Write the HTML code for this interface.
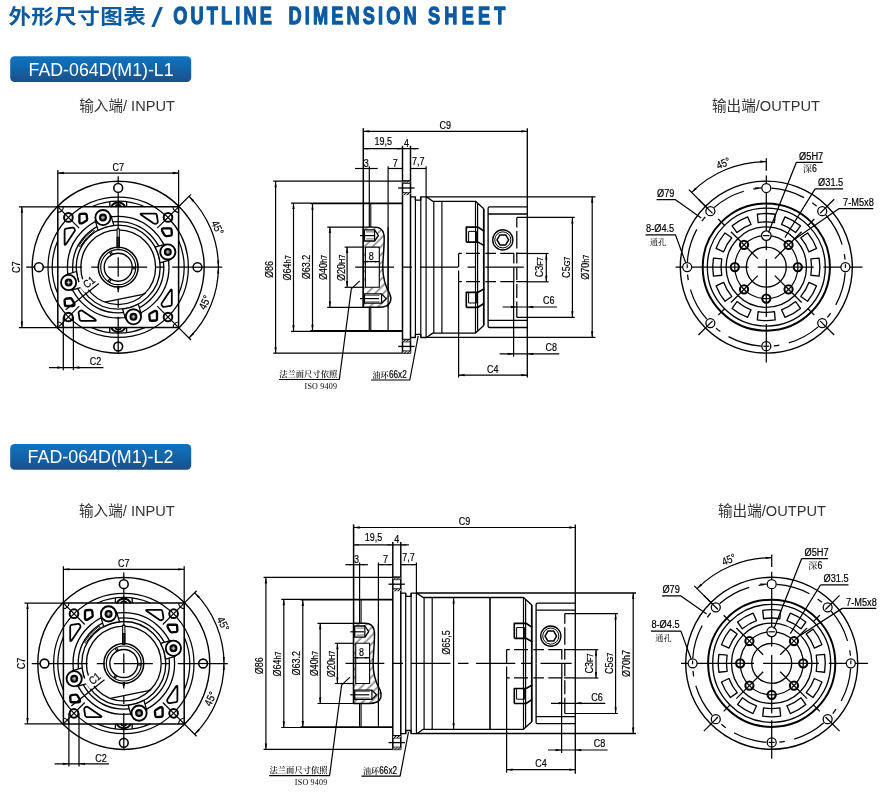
<!DOCTYPE html>
<html lang="zh"><head><meta charset="utf-8"><title>外形尺寸图表 / OUTLINE DIMENSION SHEET</title>
<style>
html,body{margin:0;padding:0;background:#fff;}
body{width:889px;height:795px;overflow:hidden;position:relative;}
svg{position:absolute;left:0;top:0;display:block;will-change:transform;}
.d{fill:none;stroke:#000;stroke-linecap:butt;stroke-linejoin:round;}
.t{font-family:"Liberation Sans","Noto Sans CJK SC",sans-serif;fill:#000;stroke:#000;stroke-width:0.2px;}
.s{font-family:"Liberation Serif","Noto Serif CJK SC",serif;fill:#111;stroke:none;font-weight:600;}
.s2{font-family:"Liberation Serif","Noto Serif CJK SC",serif;fill:#2a2a2a;stroke:none;font-weight:500;}
.m{font-family:"Liberation Serif","Noto Serif CJK SC",serif;fill:#000;stroke:none;}
.halo{font-family:"Liberation Sans","Noto Sans CJK SC",sans-serif;fill:#fff;stroke:#fff;stroke-width:3.4px;stroke-linejoin:round;}
.h1{font-family:"Liberation Sans","Noto Sans CJK SC",sans-serif;font-weight:bold;fill:#0d5a9e;}
.h1l{stroke:#0d5a9e;stroke-width:1.3px;stroke-linejoin:round;}
.lab{font-family:"Liberation Sans","Noto Sans CJK SC",sans-serif;fill:#333;}
.bt{font-family:"Liberation Sans","Noto Sans CJK SC",sans-serif;fill:#fff;}
</style></head><body>
<svg width="889" height="795" viewBox="0 0 889 795">
<defs>
<linearGradient id="bg" x1="0" y1="0" x2="0" y2="1"><stop offset="0" stop-color="#0d74c2"/><stop offset="0.5" stop-color="#1463a6"/><stop offset="1" stop-color="#1b5089"/></linearGradient>
<pattern id="hat" width="2.2" height="2.2" patternUnits="userSpaceOnUse" patternTransform="rotate(-45)"><rect width="2.2" height="2.2" fill="#fff"/><line x1="0" y1="1.1" x2="2.2" y2="1.1" stroke="#000" stroke-width="1.15"/></pattern>
<pattern id="hat2" width="5.8" height="5.8" patternUnits="userSpaceOnUse" patternTransform="rotate(-45)"><line x1="0" y1="2.9" x2="5.8" y2="2.9" stroke="#000" stroke-width="0.75"/></pattern>
<clipPath id="clip1"><rect x="0" y="0" width="889" height="795"/></clipPath>
<clipPath id="clip2"><rect x="0" y="0" width="889" height="795"/></clipPath>
</defs>
<rect width="889" height="795" fill="#fff"/>
<text class="h1" transform="translate(8.4 23.9) scale(1 0.92)" font-size="22.6" textLength="137.4" lengthAdjust="spacing">外形尺寸图表</text>
<text class="h1" style="font-weight:normal" transform="translate(151.3 26.6) scale(1.72 1.12)" font-size="24.5">/</text>
<text class="h1 h1l" transform="translate(173.20000000000002 24.1) scale(0.74 1.0)" font-size="24.6" textLength="133.5" lengthAdjust="spacing">OUTLINE</text>
<text class="h1 h1l" transform="translate(288.59999999999997 24.1) scale(0.74 1.0)" font-size="24.6" textLength="173.0" lengthAdjust="spacing">DIMENSION</text>
<text class="h1 h1l" transform="translate(428.0 24.1) scale(0.74 1.0)" font-size="24.6" textLength="104.6" lengthAdjust="spacing">SHEET</text>
<rect x="10.2" y="56.2" width="181" height="25.8" rx="4.5" fill="url(#bg)"/>
<text class="bt" x="28.6" y="75.7" font-size="18.2" textLength="145" lengthAdjust="spacingAndGlyphs">FAD-064D(M1)-L1</text>
<rect x="10.2" y="443.9" width="181" height="25.9" rx="4.5" fill="url(#bg)"/>
<text class="bt" x="27.6" y="463.3" font-size="18.2" textLength="145.8" lengthAdjust="spacingAndGlyphs">FAD-064D(M1)-L2</text>
<text class="lab" x="79.2" y="110.9" font-size="14.6">输入端/ INPUT</text>
<text class="lab" x="712" y="110.8" font-size="14.6">输出端/OUTPUT</text>
<text class="lab" x="79" y="516" font-size="14.6">输入端/ INPUT</text>
<text class="lab" x="718" y="516" font-size="14.6">输出端/OUTPUT</text>
<g class="d">
<g transform="translate(118.2 267.2)">
<circle cx="0" cy="0" r="86" stroke-width="1.39" />
<circle cx="0" cy="0" r="70.2" stroke-width="1.25" />
<path d="M-26.61 -60.4A66 66 0 0 1 26.61 -60.4" stroke-width="1.25" />
<path d="M60.4 -26.61A66 66 0 0 1 60.4 26.61" stroke-width="1.25" />
<path d="M26.61 60.4A66 66 0 0 1 -26.61 60.4" stroke-width="1.25" />
<path d="M-60.4 26.61A66 66 0 0 1 -60.4 -26.61" stroke-width="1.25" />
<rect x="-60.4" y="-60.4" width="120.8" height="120.8" stroke-width="1.52"/>
<path d="M60.4 54.8A5.6 5.6 0 0 0 54.8 60.4" stroke-width="1.12" />
<path d="M60.4 -54.8A5.6 5.6 0 0 1 54.8 -60.4" stroke-width="1.12" />
<path d="M-60.4 54.8A5.6 5.6 0 0 1 -54.8 60.4" stroke-width="1.12" />
<path d="M-60.4 -54.8A5.6 5.6 0 0 0 -54.8 -60.4" stroke-width="1.12" />
<circle cx="0" cy="0" r="50.8" stroke-width="1.32" />
<circle cx="0" cy="0" r="45.6" stroke-width="1.32" />
<circle cx="0" cy="0" r="42" stroke-width="1.32" />
<circle cx="0" cy="0" r="37.4" stroke-width="1.32" />
<path d="M-37.7 -20.9A43.1 43.1 0 0 1 -24.1 -35.73A0.8 0.8 0 0 0 -25 -37.06A44.7 44.7 0 0 0 -39.1 -21.67A0.8 0.8 0 0 0 -37.7 -20.9Z" stroke-width="1.0" stroke="#000"/>
<path d="M-13.4 34.92L23.55 27.41Q26.15 26.81 27.35 25.51" stroke-width="1.32" />
<path d="M-8.4 -60.4V-65.4M8.4 -60.4V-65.4" stroke-width="1.32" />
<path d="M-7.1 -60.1A7.8 7.8 0 0 1 7.1 -60.1" stroke-width="1.98" />
<path d="M-3.1 -60.3A3.3 3.3 0 0 1 3.1 -60.3" stroke-width="1.72" />
<path d="M-8.4 60.4V65.4M8.4 60.4V65.4" stroke-width="1.32" />
<path d="M-7.1 60.1A7.8 7.8 0 0 0 7.1 60.1" stroke-width="1.98" />
<path d="M-3.1 60.3A3.3 3.3 0 0 0 3.1 60.3" stroke-width="1.72" />
<g transform="rotate(0)">
<path d="M23.2 -53.6H37Q38.4 -53.6 38.6 -52.2L39.6 -46Q39.8 -44.6 38.8 -44L37.6 -43.4Q36.6 -43 35.6 -43.8L22.8 -52.4Q21.6 -53.6 23.2 -53.6Z" stroke-width="1.78" />
<path d="M45.2 -38.8H52Q53.2 -38.8 53.3 -37.6L53.6 -33.2Q53.6 -31.8 52.4 -31.6L48.2 -31.1Q47 -31 46.4 -32L44 -36Q43.2 -38.8 45.2 -38.8Z" stroke-width="2.38" />
<line x1="39" y1="-39" x2="60.4" y2="-60.4" stroke-width="1.19" />
<circle cx="49.8" cy="-49.8" r="4.35" stroke-width="1.98" fill="#fff"/>
<line x1="46.7" y1="-46.7" x2="52.9" y2="-52.9" stroke-width="1.19" />
<line x1="46.7" y1="-52.9" x2="52.9" y2="-46.7" stroke-width="1.19" />
<path d="M36.88 -20.11L47.32 -23.14A8.2 8.2 0 1 1 51.99 -7.41L41.78 -4.32A42 42 0 0 0 36.88 -20.11Z" stroke-width="0.01" fill="#fff" stroke="none"/>
<path d="M36.88 -20.11L47.32 -23.14M51.99 -7.41L41.78 -4.32" stroke-width="1.25" />
<path d="M36.88 -20.11A42 42 0 0 1 41.78 -4.32" stroke-width="1.32" />
<circle cx="49.61" cy="-15.26" r="7.6" stroke-width="1.85" fill="#fff"/>
<circle cx="49.61" cy="-15.26" r="3.1" stroke-width="1.8" fill="#444"/>
<path d="M47.91 -15.26H51.31M49.61 -16.96V-13.56" stroke="#ddd" stroke-width="0.7"/>
</g>
<g transform="rotate(90)">
<path d="M23.2 -53.6H37Q38.4 -53.6 38.6 -52.2L39.6 -46Q39.8 -44.6 38.8 -44L37.6 -43.4Q36.6 -43 35.6 -43.8L22.8 -52.4Q21.6 -53.6 23.2 -53.6Z" stroke-width="1.78" />
<path d="M45.2 -38.8H52Q53.2 -38.8 53.3 -37.6L53.6 -33.2Q53.6 -31.8 52.4 -31.6L48.2 -31.1Q47 -31 46.4 -32L44 -36Q43.2 -38.8 45.2 -38.8Z" stroke-width="2.38" />
<line x1="39" y1="-39" x2="60.4" y2="-60.4" stroke-width="1.19" />
<circle cx="49.8" cy="-49.8" r="4.35" stroke-width="1.98" fill="#fff"/>
<line x1="46.7" y1="-46.7" x2="52.9" y2="-52.9" stroke-width="1.19" />
<line x1="46.7" y1="-52.9" x2="52.9" y2="-46.7" stroke-width="1.19" />
<path d="M36.88 -20.11L47.32 -23.14A8.2 8.2 0 1 1 51.99 -7.41L41.78 -4.32A42 42 0 0 0 36.88 -20.11Z" stroke-width="0.01" fill="#fff" stroke="none"/>
<path d="M36.88 -20.11L47.32 -23.14M51.99 -7.41L41.78 -4.32" stroke-width="1.25" />
<path d="M36.88 -20.11A42 42 0 0 1 41.78 -4.32" stroke-width="1.32" />
<circle cx="49.61" cy="-15.26" r="7.6" stroke-width="1.85" fill="#fff"/>
<circle cx="49.61" cy="-15.26" r="3.1" stroke-width="1.8" fill="#444"/>
<path d="M47.91 -15.26H51.31M49.61 -16.96V-13.56" stroke="#ddd" stroke-width="0.7"/>
</g>
<g transform="rotate(180)">
<path d="M23.2 -53.6H37Q38.4 -53.6 38.6 -52.2L39.6 -46Q39.8 -44.6 38.8 -44L37.6 -43.4Q36.6 -43 35.6 -43.8L22.8 -52.4Q21.6 -53.6 23.2 -53.6Z" stroke-width="1.78" />
<path d="M45.2 -38.8H52Q53.2 -38.8 53.3 -37.6L53.6 -33.2Q53.6 -31.8 52.4 -31.6L48.2 -31.1Q47 -31 46.4 -32L44 -36Q43.2 -38.8 45.2 -38.8Z" stroke-width="2.38" />
<line x1="39" y1="-39" x2="60.4" y2="-60.4" stroke-width="1.19" />
<circle cx="49.8" cy="-49.8" r="4.35" stroke-width="1.98" fill="#fff"/>
<line x1="46.7" y1="-46.7" x2="52.9" y2="-52.9" stroke-width="1.19" />
<line x1="46.7" y1="-52.9" x2="52.9" y2="-46.7" stroke-width="1.19" />
<path d="M36.88 -20.11L47.32 -23.14A8.2 8.2 0 1 1 51.99 -7.41L41.78 -4.32A42 42 0 0 0 36.88 -20.11Z" stroke-width="0.01" fill="#fff" stroke="none"/>
<path d="M36.88 -20.11L47.32 -23.14M51.99 -7.41L41.78 -4.32" stroke-width="1.25" />
<path d="M36.88 -20.11A42 42 0 0 1 41.78 -4.32" stroke-width="1.32" />
<circle cx="49.61" cy="-15.26" r="7.6" stroke-width="1.85" fill="#fff"/>
<circle cx="49.61" cy="-15.26" r="3.1" stroke-width="1.8" fill="#444"/>
<path d="M47.91 -15.26H51.31M49.61 -16.96V-13.56" stroke="#ddd" stroke-width="0.7"/>
</g>
<g transform="rotate(270)">
<path d="M23.2 -53.6H37Q38.4 -53.6 38.6 -52.2L39.6 -46Q39.8 -44.6 38.8 -44L37.6 -43.4Q36.6 -43 35.6 -43.8L22.8 -52.4Q21.6 -53.6 23.2 -53.6Z" stroke-width="1.78" />
<path d="M45.2 -38.8H52Q53.2 -38.8 53.3 -37.6L53.6 -33.2Q53.6 -31.8 52.4 -31.6L48.2 -31.1Q47 -31 46.4 -32L44 -36Q43.2 -38.8 45.2 -38.8Z" stroke-width="2.38" />
<line x1="39" y1="-39" x2="60.4" y2="-60.4" stroke-width="1.19" />
<circle cx="49.8" cy="-49.8" r="4.35" stroke-width="1.98" fill="#fff"/>
<line x1="46.7" y1="-46.7" x2="52.9" y2="-52.9" stroke-width="1.19" />
<line x1="46.7" y1="-52.9" x2="52.9" y2="-46.7" stroke-width="1.19" />
<path d="M36.88 -20.11L47.32 -23.14A8.2 8.2 0 1 1 51.99 -7.41L41.78 -4.32A42 42 0 0 0 36.88 -20.11Z" stroke-width="0.01" fill="#fff" stroke="none"/>
<path d="M36.88 -20.11L47.32 -23.14M51.99 -7.41L41.78 -4.32" stroke-width="1.25" />
<path d="M36.88 -20.11A42 42 0 0 1 41.78 -4.32" stroke-width="1.32" />
<circle cx="49.61" cy="-15.26" r="7.6" stroke-width="1.85" fill="#fff"/>
<circle cx="49.61" cy="-15.26" r="3.1" stroke-width="1.8" fill="#444"/>
<path d="M47.91 -15.26H51.31M49.61 -16.96V-13.56" stroke="#ddd" stroke-width="0.7"/>
</g>
<circle cx="0" cy="0" r="19.9" stroke-width="1.52" />
<circle cx="0" cy="0" r="17.5" stroke-width="1.19" />
<circle cx="0" cy="0" r="14" stroke-width="1.39" />
<line x1="14.2" y1="-0.05" x2="17.3" y2="0.13" stroke-width="1.19" />
<line x1="14.12" y1="1.53" x2="17.22" y2="1.68" stroke-width="1.19" />
<line x1="-7.06" y1="12.32" x2="-8.76" y2="14.92" stroke-width="1.19" />
<line x1="-8.39" y1="11.46" x2="-10.06" y2="14.07" stroke-width="1.19" />
<line x1="-7.14" y1="-12.27" x2="-8.53" y2="-15.05" stroke-width="1.19" />
<line x1="-5.73" y1="-12.99" x2="-7.16" y2="-15.75" stroke-width="1.19" />
<rect x="-1.1" y="-38.4" width="2.2" height="19" fill="#fff" stroke-width="1.06"/>
<rect x="-1.1" y="-30" width="2.2" height="10.6" fill="#333" stroke-width="1.06"/>
<path d="M0 18.6V22.4" stroke-width="2.24" />
<path d="M0 22V25" stroke-width="1.32" />
<path d="M-92 0H-36M-27 0H-19M-10 0H29M38 0H46M54 0H104" stroke-width="1.25" />
<path d="M0 -91V-38M0 -10V9.5M0 32V40.5M0 49.5V86" stroke-width="1.25" />
<circle cx="79.3" cy="0" r="4.4" stroke-width="1.58" fill="#fff"/>
<circle cx="0" cy="79.3" r="4.4" stroke-width="1.58" fill="#fff"/>
<circle cx="-79.3" cy="0" r="4.4" stroke-width="1.58" fill="#fff"/>
<circle cx="0" cy="-79.3" r="4.4" stroke-width="1.58" fill="#fff"/>
<line x1="0" y1="74.9" x2="0" y2="83.7" stroke-width="1.25" />
<line x1="74.9" y1="0" x2="83.7" y2="0" stroke-width="1.25" />
<line x1="60.4" y1="-60.4" x2="72.8" y2="-72.8" stroke-width="1.25" />
<line x1="60.4" y1="60.4" x2="72.8" y2="72.8" stroke-width="1.25" />
<path d="M70.85 -70.85A100.2 100.2 0 0 1 100.2 0" stroke-width="1.25" />
<path d="M100.2 0A100.2 100.2 0 0 1 70.85 70.85" stroke-width="1.25" />
<polygon points="70.85,-70.85 76,-66.91 74.47,-65.47" fill="#000" stroke="none"/>
<polygon points="100.2,0 98.95,-6.36 101.05,-6.43" fill="#000" stroke="none"/>
<polygon points="100.2,0 101.05,6.43 98.95,6.36" fill="#000" stroke="none"/>
<polygon points="70.85,70.85 74.47,65.47 76,66.91" fill="#000" stroke="none"/>
<text class="t" transform="translate(96.02 -37.82) rotate(63) scale(0.86 1)" font-size="11" text-anchor="middle" >45°</text>
<text class="t" transform="translate(90 36.9) rotate(-65) scale(0.86 1)" font-size="11" text-anchor="middle" >45°</text>
<line x1="-60.4" y1="-97.2" x2="-60.4" y2="-60.4" stroke-width="1.25" />
<line x1="60.4" y1="-97.2" x2="60.4" y2="-60.4" stroke-width="1.25" />
<line x1="-60.4" y1="-94.2" x2="60.4" y2="-94.2" stroke-width="1.25" />
<polygon points="-60.4,-94.2 -54.4,-95.35 -54.4,-93.05" fill="#000" stroke="none"/>
<polygon points="60.4,-94.2 54.4,-93.05 54.4,-95.35" fill="#000" stroke="none"/>
<text class="t" transform="translate(0 -96.4) rotate(0) scale(0.82 1)" font-size="11" text-anchor="middle" >C7</text>
<line x1="-99.3" y1="-60.4" x2="-60.4" y2="-60.4" stroke-width="1.25" />
<line x1="-99.3" y1="60.4" x2="-60.4" y2="60.4" stroke-width="1.25" />
<line x1="-96.3" y1="-60.4" x2="-96.3" y2="60.4" stroke-width="1.25" />
<polygon points="-96.3,-60.4 -95.15,-54.4 -97.45,-54.4" fill="#000" stroke="none"/>
<polygon points="-96.3,60.4 -97.45,54.4 -95.15,54.4" fill="#000" stroke="none"/>
<text class="t" transform="translate(-98.4 0) rotate(-90) scale(0.82 1)" font-size="11" text-anchor="middle" >C7</text>
<line x1="-54.9" y1="49.8" x2="-54.9" y2="103" stroke-width="1.25" />
<line x1="-44.8" y1="49.8" x2="-44.8" y2="103" stroke-width="1.25" />
<line x1="-69.2" y1="100.3" x2="-14.8" y2="100.3" stroke-width="1.25" />
<polygon points="-54.9,100.3 -60.9,101.45 -60.9,99.15" fill="#000" stroke="none"/>
<polygon points="-44.8,100.3 -38.8,99.15 -38.8,101.45" fill="#000" stroke="none"/>
<text class="t" transform="translate(-22.7 98.2) rotate(0) scale(0.82 1)" font-size="11" text-anchor="middle" >C2</text>
<rect transform="translate(-26.8 18) rotate(-38.5)" x="-10" y="-10" width="17.6" height="11.6" fill="#fff" stroke="none"/>
<line x1="-19.3" y1="16.2" x2="-52.5" y2="42.6" stroke-width="1.25" />
<text class="t" transform="translate(-26.8 18) rotate(-38.5) scale(0.84 1)" font-size="11" text-anchor="middle" >C1</text>
</g>
<g transform="translate(0 0)">
<line x1="273.3" y1="181.2" x2="402.5" y2="181.2" stroke-width="1.19" />
<line x1="273.3" y1="353.2" x2="402.5" y2="353.2" stroke-width="1.19" />
<line x1="275.6" y1="181.2" x2="275.6" y2="353.2" stroke-width="1.19" />
<polygon points="275.6,181.2 276.75,187.2 274.45,187.2" fill="#000" stroke="none"/>
<polygon points="275.6,353.2 274.45,347.2 276.75,347.2" fill="#000" stroke="none"/>
<text class="t" transform="translate(273 269.6) rotate(-90) scale(0.82 1)" font-size="11" text-anchor="middle" >Ø86</text>
<line x1="291" y1="203.1" x2="402.5" y2="203.1" stroke-width="1.19" />
<line x1="291" y1="331.3" x2="402.5" y2="331.3" stroke-width="1.19" />
<line x1="293.5" y1="203.1" x2="293.5" y2="331.3" stroke-width="1.19" />
<polygon points="293.5,203.1 294.65,209.1 292.35,209.1" fill="#000" stroke="none"/>
<polygon points="293.5,331.3 292.35,325.3 294.65,325.3" fill="#000" stroke="none"/>
<text class="t" transform="translate(290.9 267.8) rotate(-90) scale(0.82 1)" font-size="11" text-anchor="middle" >Ø64<tspan font-size="9">h7</tspan></text>
<line x1="310.3" y1="203.7" x2="402.5" y2="203.7" stroke-width="1.19" />
<line x1="310.3" y1="330.7" x2="402.5" y2="330.7" stroke-width="1.19" />
<line x1="312.5" y1="203.7" x2="312.5" y2="330.7" stroke-width="1.19" />
<polygon points="312.5,203.7 313.65,209.7 311.35,209.7" fill="#000" stroke="none"/>
<polygon points="312.5,330.7 311.35,324.7 313.65,324.7" fill="#000" stroke="none"/>
<text class="t" transform="translate(309.9 267) rotate(-90) scale(0.82 1)" font-size="11" text-anchor="middle" >Ø63.2</text>
<line x1="327.2" y1="227.1" x2="363.3" y2="227.1" stroke-width="1.19" />
<line x1="327.2" y1="307.3" x2="363.3" y2="307.3" stroke-width="1.19" />
<line x1="329.9" y1="227.1" x2="329.9" y2="307.3" stroke-width="1.19" />
<polygon points="329.9,227.1 331.05,233.1 328.75,233.1" fill="#000" stroke="none"/>
<polygon points="329.9,307.3 328.75,301.3 331.05,301.3" fill="#000" stroke="none"/>
<text class="t" transform="translate(327.3 267.4) rotate(-90) scale(0.82 1)" font-size="11" text-anchor="middle" >Ø40<tspan font-size="9">h7</tspan></text>
<line x1="344.6" y1="247.1" x2="365" y2="247.1" stroke-width="1.19" />
<line x1="344.6" y1="287.3" x2="365" y2="287.3" stroke-width="1.19" />
<line x1="347.1" y1="247.1" x2="347.1" y2="287.3" stroke-width="1.19" />
<polygon points="347.1,247.1 348.25,253.1 345.95,253.1" fill="#000" stroke="none"/>
<polygon points="347.1,287.3 345.95,281.3 348.25,281.3" fill="#000" stroke="none"/>
<text class="t" transform="translate(344.5 267.7) rotate(-90) scale(0.82 1)" font-size="11" text-anchor="middle" >Ø20<tspan font-size="9">H7</tspan></text>
<line x1="363.3" y1="128.2" x2="363.3" y2="307.3" stroke-width="1.52" />
<line x1="527.3" y1="128.2" x2="527.3" y2="377.5" stroke-width="1.32" />
<line x1="363.3" y1="131.3" x2="527.3" y2="131.3" stroke-width="1.19" />
<polygon points="363.3,131.3 369.3,130.15 369.3,132.45" fill="#000" stroke="none"/>
<polygon points="527.3,131.3 521.3,132.45 521.3,130.15" fill="#000" stroke="none"/>
<text class="t" transform="translate(445.3 128.6) rotate(0) scale(0.82 1)" font-size="11" text-anchor="middle" >C9</text>
<line x1="363.3" y1="148.7" x2="418.6" y2="148.7" stroke-width="1.19" />
<polygon points="363.3,148.7 368.3,148 368.3,149.4" fill="#000" stroke="none"/>
<polygon points="402.5,148.7 397.5,149.4 397.5,148" fill="#000" stroke="none"/>
<polygon points="410.5,148.7 415.5,148 415.5,149.4" fill="#000" stroke="none"/>
<text class="t" transform="translate(383.2 144.6) rotate(0) scale(0.82 1)" font-size="11" text-anchor="middle" >19,5</text>
<text class="t" transform="translate(406.5 146.6) rotate(0) scale(0.82 1)" font-size="11" text-anchor="middle" >4</text>
<line x1="402.5" y1="145.8" x2="402.5" y2="181.1" stroke-width="1.45" />
<line x1="410.5" y1="145.8" x2="410.5" y2="181.1" stroke-width="1.45" />
<line x1="355" y1="168.5" x2="377.7" y2="168.5" stroke-width="1.19" />
<polygon points="363.3,168.5 358.8,169.1 358.8,167.9" fill="#000" stroke="none"/>
<polygon points="369.3,168.5 373.8,167.9 373.8,169.1" fill="#000" stroke="none"/>
<text class="t" transform="translate(366.3 166.6) rotate(0) scale(0.82 1)" font-size="11" text-anchor="middle" >3</text>
<line x1="388.1" y1="168.5" x2="402.5" y2="168.5" stroke-width="1.19" />
<polygon points="388.1,168.5 392.6,167.9 392.6,169.1" fill="#000" stroke="none"/>
<polygon points="402.5,168.5 398,169.1 398,167.9" fill="#000" stroke="none"/>
<text class="t" transform="translate(395.3 166.6) rotate(0) scale(0.82 1)" font-size="11" text-anchor="middle" >7</text>
<line x1="410.5" y1="168.5" x2="426.1" y2="168.5" stroke-width="1.19" />
<polygon points="410.5,168.5 415,167.9 415,169.1" fill="#000" stroke="none"/>
<polygon points="426.1,168.5 421.6,169.1 421.6,167.9" fill="#000" stroke="none"/>
<text class="t" transform="translate(418.2 165.2) rotate(0) scale(0.82 1)" font-size="11" text-anchor="middle" >7,7</text>
<line x1="369.3" y1="166.3" x2="369.3" y2="227.2" stroke-width="1.19" />
<line x1="369.3" y1="307.2" x2="369.3" y2="331" stroke-width="1.19" />
<line x1="370.8" y1="203.7" x2="370.8" y2="227.2" stroke-width="1.06" />
<line x1="370.8" y1="307.2" x2="370.8" y2="331" stroke-width="1.06" />
<line x1="388.1" y1="166.3" x2="388.1" y2="331" stroke-width="1.19" />
<line x1="426.1" y1="166.3" x2="426.1" y2="337.2" stroke-width="1.19" />
<line x1="402.5" y1="181.1" x2="402.5" y2="353.3" stroke-width="1.52" />
<line x1="410.5" y1="181.1" x2="410.5" y2="353.3" stroke-width="1.52" />
<line x1="402.5" y1="181.1" x2="410.5" y2="181.1" stroke-width="1.32" />
<line x1="402.5" y1="353.3" x2="410.5" y2="353.3" stroke-width="1.32" />
<line x1="398.2" y1="188" x2="414.6" y2="188" stroke-width="1.32" />
<line x1="402.5" y1="183.4" x2="410.5" y2="183.4" stroke-width="1.06" />
<line x1="402.5" y1="192.6" x2="410.5" y2="192.6" stroke-width="1.06" />
<rect x="402.5" y="180.9" width="8" height="2.5" fill="url(#hat)" stroke="none"/>
<rect x="402.5" y="192.6" width="8" height="2.5" fill="url(#hat)" stroke="none"/>
<line x1="402.5" y1="180.9" x2="410.5" y2="180.9" stroke-width="1.06" />
<line x1="398.2" y1="346.4" x2="414.6" y2="346.4" stroke-width="1.32" />
<line x1="402.5" y1="341.8" x2="410.5" y2="341.8" stroke-width="1.06" />
<line x1="402.5" y1="351" x2="410.5" y2="351" stroke-width="1.06" />
<rect x="402.5" y="339.3" width="8" height="2.5" fill="url(#hat)" stroke="none"/>
<rect x="402.5" y="351" width="8" height="2.5" fill="url(#hat)" stroke="none"/>
<line x1="402.5" y1="339.3" x2="410.5" y2="339.3" stroke-width="1.06" />
<path d="M410.5 196.9H415.4V200.1H420.8V196.9H426.5L432.8 201.3H475.5L483.8 208.8" stroke-width="1.32" />
<path d="M488.1 267.2V208.2Q488.1 206.9 489.6 206.9H527.3" stroke-width="1.32" />
<line x1="488.1" y1="214" x2="527.3" y2="214" stroke-width="1.32" />
<line x1="426" y1="196.8" x2="595.5" y2="196.8" stroke-width="1.32" />
<path d="M410.5 337.5H415.4V334.3H420.8V337.5H426.5L432.8 333.1H475.5L483.8 325.6" stroke-width="1.32" />
<path d="M488.1 267.2V326.2Q488.1 327.5 489.6 327.5H527.3" stroke-width="1.32" />
<line x1="488.1" y1="320.4" x2="527.3" y2="320.4" stroke-width="1.32" />
<line x1="426" y1="337.3" x2="595.5" y2="337.3" stroke-width="1.32" />
<line x1="415.4" y1="196.9" x2="415.4" y2="337.5" stroke-width="1.19" />
<line x1="420.8" y1="196.9" x2="420.8" y2="337.5" stroke-width="1.19" />
<line x1="433.8" y1="201.3" x2="433.8" y2="333.1" stroke-width="1.19" />
<line x1="441.9" y1="201.3" x2="441.9" y2="333.1" stroke-width="1.19" />
<line x1="475.5" y1="201.3" x2="475.5" y2="333.1" stroke-width="1.19" />
<line x1="477.6" y1="203.5" x2="477.6" y2="330.9" stroke-width="1.19" />
<line x1="483.8" y1="208.8" x2="483.8" y2="325.6" stroke-width="1.78" />
<circle cx="502.8" cy="239.9" r="10.1" stroke-width="1.35" fill="#fff"/>
<circle cx="502.8" cy="239.9" r="8.05" stroke-width="1.0"/>
<polygon points="508.6,239.9 505.7,244.92 499.9,244.92 497,239.9 499.9,234.88 505.7,234.88" stroke-width="1.5"/>
<rect x="466.3" y="227.1" width="8.6" height="15" fill="#fff" stroke="none"/>
<path d="M466.3 242.1V227.1H478L484.3 231.2M466.3 242.1H478L484.3 245.6" stroke-width="1.65" />
<path d="M468.6 242.1V231.4H476.6V242.1" stroke-width="0.99" />
<rect x="466.3" y="292.3" width="8.6" height="15" fill="#fff" stroke="none"/>
<path d="M466.3 307.3V292.3H478L484.3 288.8M466.3 307.3H478L484.3 303.2" stroke-width="1.65" />
<path d="M468.6 292.3V303H476.6V292.3" stroke-width="0.99" />
<path d="M458.6 253.4H461.8M466 253.4H480M485.3 253.4H496M500.3 253.4H514.2M516 253.4H527.3" stroke-width="1.25" />
<path d="M458.6 281.7H461.8M466 281.7H480M485.3 281.7H496M500.3 281.7H514.2M516 281.7H527.3" stroke-width="1.25" />
<path d="M458.6 253.4V267.2M458.6 270.4V281.7" stroke-width="1.25" />
<line x1="458.6" y1="281.7" x2="458.6" y2="377.5" stroke-width="1.25" />
<path d="M516.8 217.4V227.6M516.8 231V248.5M516.8 252.6V263.6M516.8 267.5V280M516.8 284V298M516.8 301.5V317.3" stroke-width="1.25" />
<path d="M513.8 253.4V263.4M513.8 267.6V281.7" stroke-width="1.25" />
<line x1="513.6" y1="281.7" x2="513.6" y2="356.8" stroke-width="1.25" />
<path d="M363.3 227.1H375C381 227.1 384.2 231.2 384.2 238.2C384.2 249.2 382.8 259.2 382.8 267.2C382.8 279.2 386 287.2 389.5 293.2C392 298.2 391 303.7 386.5 305.8C384 307 382 307.3 379 307.3H363.3Z" stroke-width="0.01" fill="#fff" stroke="none"/>
<g clip-path="url(#clip1)">
<path d="M363.3 227.1H375C381 227.1 384.2 231.2 384.2 238.2C384.2 249.2 382.8 259.2 382.8 267.2C382.8 279.2 386 287.2 389.5 293.2C392 298.2 391 303.7 386.5 305.8C384 307 382 307.3 379 307.3H363.3Z" fill="url(#hat2)" stroke="none"/>
</g>
<rect x="365.4" y="247.1" width="13.9" height="40.2" fill="#fff" stroke-width="1.1"/>
<path d="M364.4 229.8H374.6L378.4 235.5L374.6 241H364.4Z" stroke-width="1.32" fill="#fff"/>
<line x1="374.6" y1="229.8" x2="374.6" y2="241" stroke-width="1.19" />
<line x1="366" y1="231.9" x2="374.6" y2="231.9" stroke-width="0.59" />
<line x1="366" y1="238.9" x2="374.6" y2="238.9" stroke-width="0.59" />
<line x1="360" y1="235.6" x2="374" y2="235.6" stroke-width="1.19" />
<path d="M364.4 293.9H381.6L386.2 298.6L381.6 303.2H364.4Z" stroke-width="1.32" fill="#fff"/>
<line x1="381.6" y1="293.9" x2="381.6" y2="303.2" stroke-width="1.19" />
<line x1="364.4" y1="295.4" x2="379.6" y2="295.4" stroke-width="0.59" />
<line x1="364.4" y1="301.8" x2="379.6" y2="301.8" stroke-width="0.59" />
<line x1="360" y1="298.6" x2="379" y2="298.6" stroke-width="1.19" />
<path d="M363.3 227.1H375C381 227.1 384.2 231.2 384.2 238.2C384.2 249.2 382.8 259.2 382.8 267.2C382.8 279.2 386 287.2 389.5 293.2C392 298.2 391 303.7 386.5 305.8C384 307 382 307.3 379 307.3H363.3Z" stroke-width="1.45" />
<path d="M355.2 267.2H394M402 267.2H412M420 267.2H458M467.6 267.2H475M485.3 267.2H523.8" stroke-width="1.25" />
<line x1="388.1" y1="227.2" x2="388.1" y2="307.2" stroke-width="1.19" />
<line x1="363.3" y1="261.6" x2="379.3" y2="261.6" stroke-width="1.19" />
<polygon points="363.3,261.6 367.8,260.8 367.8,262.4" fill="#000" stroke="none"/>
<polygon points="379.3,261.6 374.8,262.4 374.8,260.8" fill="#000" stroke="none"/>
<text class="t" transform="translate(371.2 259.6) rotate(0) scale(0.82 1)" font-size="11" text-anchor="middle" >8</text>
<line x1="527.3" y1="253.5" x2="548.6" y2="253.5" stroke-width="1.19" />
<line x1="527.3" y1="281.8" x2="548.6" y2="281.8" stroke-width="1.19" />
<line x1="546.3" y1="253.5" x2="546.3" y2="281.8" stroke-width="1.19" />
<polygon points="546.3,253.5 547.45,259.5 545.15,259.5" fill="#000" stroke="none"/>
<polygon points="546.3,281.8 545.15,275.8 547.45,275.8" fill="#000" stroke="none"/>
<text class="t" transform="translate(543.4 267.2) rotate(-90) scale(0.82 1)" font-size="11" text-anchor="middle" >C3<tspan font-size="9">F7</tspan></text>
<line x1="516.8" y1="217.4" x2="574.7" y2="217.4" stroke-width="1.19" />
<line x1="516.8" y1="317.3" x2="574.7" y2="317.3" stroke-width="1.19" />
<line x1="572.4" y1="217.4" x2="572.4" y2="317.3" stroke-width="1.19" />
<polygon points="572.4,217.4 573.55,223.4 571.25,223.4" fill="#000" stroke="none"/>
<polygon points="572.4,317.3 571.25,311.3 573.55,311.3" fill="#000" stroke="none"/>
<text class="t" transform="translate(569.5 267.2) rotate(-90) scale(0.82 1)" font-size="11" text-anchor="middle" >C5<tspan font-size="9">G7</tspan></text>
<line x1="592.2" y1="196.8" x2="592.2" y2="337.3" stroke-width="1.19" />
<polygon points="592.2,196.8 593.35,202.8 591.05,202.8" fill="#000" stroke="none"/>
<polygon points="592.2,337.3 591.05,331.3 593.35,331.3" fill="#000" stroke="none"/>
<text class="t" transform="translate(589.3 267.2) rotate(-90) scale(0.82 1)" font-size="11" text-anchor="middle" >Ø70<tspan font-size="9">h7</tspan></text>
<line x1="502.6" y1="307" x2="557" y2="307" stroke-width="1.19" />
<text class="t" transform="translate(548.7 304.2) rotate(0) scale(0.82 1)" font-size="11" text-anchor="middle" >C6</text>
<line x1="499.6" y1="353.9" x2="559.3" y2="353.9" stroke-width="1.19" />
<text class="t" transform="translate(551.3 351.3) rotate(0) scale(0.82 1)" font-size="11" text-anchor="middle" >C8</text>
<text class="t" transform="translate(492.8 373.1) rotate(0) scale(0.82 1)" font-size="11" text-anchor="middle" >C4</text>
<polygon points="516.8,307 510.8,308.15 510.8,305.85" fill="#000" stroke="none"/>
<polygon points="527.3,307 533.3,305.85 533.3,308.15" fill="#000" stroke="none"/>
<polygon points="513.6,353.9 507.6,355.05 507.6,352.75" fill="#000" stroke="none"/>
<polygon points="527.3,353.9 533.3,352.75 533.3,355.05" fill="#000" stroke="none"/>
<line x1="458.6" y1="375.2" x2="527.3" y2="375.2" stroke-width="1.19" />
<polygon points="458.6,375.2 464.6,374.05 464.6,376.35" fill="#000" stroke="none"/>
<polygon points="527.3,375.2 521.3,376.35 521.3,374.05" fill="#000" stroke="none"/>
<path d="M359.7 280.9L351.3 288.9L339.3 379.5H278.9" stroke-width="1.19" />
<text class="s" transform="translate(279.2 377) rotate(0) scale(1 1)" font-size="8.3" text-anchor="start" >法兰面尺寸依照</text>
<text class="m" transform="translate(304.5 388.6) rotate(0) scale(1 1)" font-size="8" text-anchor="start" textLength="32.5" lengthAdjust="spacing">ISO 9409</text>
<path d="M418.2 335.8L409.8 380H371.1" stroke-width="1.19" />
<text class="s" transform="translate(372.6 377.7) rotate(0) scale(1 1)" font-size="8" text-anchor="start" >油环</text>
<text class="t" transform="translate(389 377.7) rotate(0) scale(0.82 1)" font-size="10" text-anchor="start" >66x2</text>
</g>
<g transform="translate(766.3 267.1)">
<circle cx="0" cy="0" r="86" stroke-width="1.39" />
<path d="M78.93 5.24A79.1 79.1 0 0 1 69.51 37.74" stroke-width="1.25" />
<path d="M64.4 45.93A79.1 79.1 0 0 1 61.04 50.31" stroke-width="1.25" />
<path d="M52.1 59.52A79.1 79.1 0 0 1 22.47 75.84" stroke-width="1.25" />
<path d="M13.06 78.02A79.1 79.1 0 0 1 7.58 78.74" stroke-width="1.25" />
<path d="M-5.24 78.93A79.1 79.1 0 0 1 -37.74 69.51" stroke-width="1.25" />
<path d="M-45.93 64.4A79.1 79.1 0 0 1 -50.31 61.04" stroke-width="1.25" />
<path d="M-59.52 52.1A79.1 79.1 0 0 1 -75.84 22.47" stroke-width="1.25" />
<path d="M-78.02 13.06A79.1 79.1 0 0 1 -78.74 7.58" stroke-width="1.25" />
<path d="M-78.93 -5.24A79.1 79.1 0 0 1 -69.51 -37.74" stroke-width="1.25" />
<path d="M-64.4 -45.93A79.1 79.1 0 0 1 -61.04 -50.31" stroke-width="1.25" />
<path d="M-52.1 -59.52A79.1 79.1 0 0 1 -22.47 -75.84" stroke-width="1.25" />
<path d="M-13.06 -78.02A79.1 79.1 0 0 1 -7.58 -78.74" stroke-width="1.25" />
<path d="M5.24 -78.93A79.1 79.1 0 0 1 37.74 -69.51" stroke-width="1.25" />
<path d="M45.93 -64.4A79.1 79.1 0 0 1 50.31 -61.04" stroke-width="1.25" />
<path d="M59.52 -52.1A79.1 79.1 0 0 1 75.84 -22.47" stroke-width="1.25" />
<path d="M78.02 -13.06A79.1 79.1 0 0 1 78.74 -7.58" stroke-width="1.25" />
<circle cx="0" cy="0" r="63.6" stroke-width="1.98" />
<circle cx="0" cy="0" r="59" stroke-width="1.32" />
<circle cx="0" cy="0" r="40.2" stroke-width="1.32" />
<circle cx="0" cy="0" r="31.5" stroke-width="1.19" />
<circle cx="0" cy="0" r="20" stroke-width="1.32" />
<path d="M-8.94 -52.85A53.6 53.6 0 0 1 8.94 -52.85L8.15 -44.56A45.3 45.3 0 0 0 -8.15 -44.56Z" stroke-width="1.32" />
<path d="M18.68 -50.24A53.6 53.6 0 0 1 34.17 -41.3L29.34 -34.51A45.3 45.3 0 0 0 15.22 -42.67Z" stroke-width="1.32" />
<path d="M41.3 -34.17A53.6 53.6 0 0 1 50.24 -18.68L42.67 -15.22A45.3 45.3 0 0 0 34.51 -29.34Z" stroke-width="1.32" />
<path d="M52.85 -8.94A53.6 53.6 0 0 1 52.85 8.94L44.56 8.15A45.3 45.3 0 0 0 44.56 -8.15Z" stroke-width="1.32" />
<path d="M50.24 18.68A53.6 53.6 0 0 1 41.3 34.17L34.51 29.34A45.3 45.3 0 0 0 42.67 15.22Z" stroke-width="1.32" />
<path d="M34.17 41.3A53.6 53.6 0 0 1 18.68 50.24L15.22 42.67A45.3 45.3 0 0 0 29.34 34.51Z" stroke-width="1.32" />
<path d="M8.94 52.85A53.6 53.6 0 0 1 -8.94 52.85L-8.15 44.56A45.3 45.3 0 0 0 8.15 44.56Z" stroke-width="1.32" />
<path d="M-18.68 50.24A53.6 53.6 0 0 1 -34.17 41.3L-29.34 34.51A45.3 45.3 0 0 0 -15.22 42.67Z" stroke-width="1.32" />
<path d="M-41.3 34.17A53.6 53.6 0 0 1 -50.24 18.68L-42.67 15.22A45.3 45.3 0 0 0 -34.51 29.34Z" stroke-width="1.32" />
<path d="M-52.85 8.94A53.6 53.6 0 0 1 -52.85 -8.94L-44.56 -8.15A45.3 45.3 0 0 0 -44.56 8.15Z" stroke-width="1.32" />
<path d="M-50.24 -18.68A53.6 53.6 0 0 1 -41.3 -34.17L-34.51 -29.34A45.3 45.3 0 0 0 -42.67 -15.22Z" stroke-width="1.32" />
<path d="M-34.17 -41.3A53.6 53.6 0 0 1 -18.68 -50.24L-15.22 -42.67A45.3 45.3 0 0 0 -29.34 -34.51Z" stroke-width="1.32" />
<line x1="8.49" y1="8.49" x2="35.36" y2="35.36" stroke-width="1.25" />
<line x1="41.37" y1="41.37" x2="48.08" y2="48.08" stroke-width="1.25" />
<line x1="-8.49" y1="8.49" x2="-35.36" y2="35.36" stroke-width="1.25" />
<line x1="-41.37" y1="41.37" x2="-48.08" y2="48.08" stroke-width="1.25" />
<line x1="-8.49" y1="-8.49" x2="-35.36" y2="-35.36" stroke-width="1.25" />
<line x1="-41.37" y1="-41.37" x2="-48.08" y2="-48.08" stroke-width="1.25" />
<line x1="8.49" y1="-8.49" x2="35.36" y2="-35.36" stroke-width="1.25" />
<line x1="41.37" y1="-41.37" x2="48.08" y2="-48.08" stroke-width="1.25" />
<path d="M-90.7 0H-17.6M-8.6 0H47.3M57.1 0H96.3" stroke-width="1.25" />
<path d="M0 -108.8V-96.3M0 -91.5V-16.8M0 -8.2V50M0 57V95.4" stroke-width="1.25" />
<circle cx="79.1" cy="0" r="4.5" stroke-width="1.25" fill="#fff"/>
<line x1="79.1" y1="-2.8" x2="79.1" y2="1" stroke-width="1.19" />
<circle cx="55.93" cy="55.93" r="4.5" stroke-width="1.25" fill="#fff"/>
<line x1="53.74" y1="53.74" x2="67.88" y2="67.88" stroke-width="1.25" />
<circle cx="0" cy="79.1" r="4.5" stroke-width="1.25" fill="#fff"/>
<line x1="0" y1="74.6" x2="0" y2="83.6" stroke-width="1.25" />
<line x1="-3" y1="79.1" x2="3" y2="79.1" stroke-width="1.19" />
<circle cx="-55.93" cy="55.93" r="4.5" stroke-width="1.25" fill="#fff"/>
<line x1="-53.74" y1="53.74" x2="-67.88" y2="67.88" stroke-width="1.25" />
<circle cx="-79.1" cy="0" r="4.5" stroke-width="1.25" fill="#fff"/>
<line x1="-79.1" y1="-2.8" x2="-79.1" y2="1" stroke-width="1.19" />
<circle cx="-55.93" cy="-55.93" r="4.5" stroke-width="1.25" fill="#fff"/>
<line x1="-53.74" y1="-53.74" x2="-67.88" y2="-67.88" stroke-width="1.25" />
<circle cx="0" cy="-79.1" r="4.5" stroke-width="1.25" fill="#fff"/>
<line x1="-11.5" y1="-79.1" x2="-5" y2="-79.1" stroke-width="1.25" />
<circle cx="55.93" cy="-55.93" r="4.5" stroke-width="1.25" fill="#fff"/>
<line x1="53.74" y1="-53.74" x2="67.88" y2="-67.88" stroke-width="1.25" />
<circle cx="0" cy="-31.5" r="4.8" stroke-width="1.25" fill="#fff"/>
<line x1="-3.2" y1="-31.5" x2="3.2" y2="-31.5" stroke-width="1.19" />
<circle cx="22.27" cy="-22.27" r="4.1" stroke-width="2.05" fill="#fff"/>
<line x1="19.94" y1="-19.94" x2="24.61" y2="-24.61" stroke-width="1.19" />
<line x1="19.94" y1="-24.61" x2="24.61" y2="-19.94" stroke-width="1.19" />
<circle cx="31.5" cy="0" r="4.1" stroke-width="2.05" fill="#fff"/>
<line x1="31.5" y1="-3.3" x2="31.5" y2="3.3" stroke-width="1.19" />
<line x1="28.2" y1="0" x2="34.8" y2="0" stroke-width="1.19" />
<circle cx="22.27" cy="22.27" r="4.1" stroke-width="2.05" fill="#fff"/>
<line x1="19.94" y1="19.94" x2="24.61" y2="24.61" stroke-width="1.19" />
<line x1="24.61" y1="19.94" x2="19.94" y2="24.61" stroke-width="1.19" />
<circle cx="0" cy="31.5" r="4.1" stroke-width="2.05" fill="#fff"/>
<line x1="-3.3" y1="31.5" x2="3.3" y2="31.5" stroke-width="1.19" />
<line x1="0" y1="28.2" x2="0" y2="34.8" stroke-width="1.19" />
<circle cx="-22.27" cy="22.27" r="4.1" stroke-width="2.05" fill="#fff"/>
<line x1="-19.94" y1="19.94" x2="-24.61" y2="24.61" stroke-width="1.19" />
<line x1="-19.94" y1="24.61" x2="-24.61" y2="19.94" stroke-width="1.19" />
<circle cx="-31.5" cy="0" r="4.1" stroke-width="2.05" fill="#fff"/>
<line x1="-31.5" y1="-3.3" x2="-31.5" y2="3.3" stroke-width="1.19" />
<line x1="-34.8" y1="0" x2="-28.2" y2="0" stroke-width="1.19" />
<circle cx="-22.27" cy="-22.27" r="4.1" stroke-width="2.05" fill="#fff"/>
<line x1="-19.94" y1="-19.94" x2="-24.61" y2="-24.61" stroke-width="1.19" />
<line x1="-24.61" y1="-19.94" x2="-19.94" y2="-24.61" stroke-width="1.19" />
<path d="M-74.67 -74.67A105.6 105.6 0 0 1 0 -105.6" stroke-width="1.25" />
<polygon points="-74.67,-74.67 -71.11,-79.63 -69.53,-77.97" fill="#000" stroke="none"/>
<polygon points="0,-105.6 -5.97,-104.29 -6.03,-106.59" fill="#000" stroke="none"/>
<line x1="-59.4" y1="-59.4" x2="-77.43" y2="-77.43" stroke-width="1.25" />
<text class="t" transform="translate(-41.56 -100.33) rotate(-22.5) scale(0.84 1)" font-size="11" text-anchor="middle" >45°</text>
<path d="M30 -104.7H56.4M30 -104.7L2.2 -34.6" stroke-width="1.25" />
<text class="t" transform="translate(32.8 -107.3) rotate(0) scale(0.84 1)" font-size="11" text-anchor="start" >Ø5H7</text>
<text class="s2" transform="translate(36.6 -94.7) rotate(0) scale(1 1)" font-size="9" text-anchor="start" >深</text>
<text class="t" transform="translate(45.8 -94.7) rotate(0) scale(0.84 1)" font-size="10.4" text-anchor="start" >6</text>
<path d="M48.8 -78.3H76.8M48.8 -78.3L18.6 -29.6" stroke-width="1.25" />
<text class="t" transform="translate(51.8 -81.2) rotate(0) scale(0.84 1)" font-size="11" text-anchor="start" >Ø31.5</text>
<path d="M72.9 -58.6H107M72.9 -58.6L27.6 -27.3" stroke-width="1.25" />
<text class="t" transform="translate(76.7 -61) rotate(0) scale(0.84 1)" font-size="11" text-anchor="start" >7-M5x8</text>
<path d="M-109.8 -67.4H-90.8L-65.1 -49.2" stroke-width="1.25" />
<text class="t" transform="translate(-109.3 -70.2) rotate(0) scale(0.84 1)" font-size="11" text-anchor="start" >Ø79</text>
<path d="M-120.8 -32.2H-90.8L-80.5 -4" stroke-width="1.25" />
<text class="t" transform="translate(-120.3 -35) rotate(0) scale(0.84 1)" font-size="11" text-anchor="start" >8-Ø4.5</text>
<text class="s2" transform="translate(-116.5 -22.4) rotate(0) scale(1 1)" font-size="8.2" text-anchor="start" >通孔</text>
</g>
<g transform="translate(123.8 663.5)">
<circle cx="0" cy="0" r="86" stroke-width="1.39" />
<circle cx="0" cy="0" r="70.2" stroke-width="1.25" />
<path d="M-26.61 -60.4A66 66 0 0 1 26.61 -60.4" stroke-width="1.25" />
<path d="M60.4 -26.61A66 66 0 0 1 60.4 26.61" stroke-width="1.25" />
<path d="M26.61 60.4A66 66 0 0 1 -26.61 60.4" stroke-width="1.25" />
<path d="M-60.4 26.61A66 66 0 0 1 -60.4 -26.61" stroke-width="1.25" />
<rect x="-60.4" y="-60.4" width="120.8" height="120.8" stroke-width="1.52"/>
<path d="M60.4 54.8A5.6 5.6 0 0 0 54.8 60.4" stroke-width="1.12" />
<path d="M60.4 -54.8A5.6 5.6 0 0 1 54.8 -60.4" stroke-width="1.12" />
<path d="M-60.4 54.8A5.6 5.6 0 0 1 -54.8 60.4" stroke-width="1.12" />
<path d="M-60.4 -54.8A5.6 5.6 0 0 0 -54.8 -60.4" stroke-width="1.12" />
<circle cx="0" cy="0" r="50.8" stroke-width="1.32" />
<circle cx="0" cy="0" r="45.6" stroke-width="1.32" />
<circle cx="0" cy="0" r="42" stroke-width="1.32" />
<circle cx="0" cy="0" r="37.4" stroke-width="1.32" />
<path d="M-37.7 -20.9A43.1 43.1 0 0 1 -24.1 -35.73A0.8 0.8 0 0 0 -25 -37.06A44.7 44.7 0 0 0 -39.1 -21.67A0.8 0.8 0 0 0 -37.7 -20.9Z" stroke-width="1.0" stroke="#000"/>
<path d="M-13.4 34.92L23.55 27.41Q26.15 26.81 27.35 25.51" stroke-width="1.32" />
<path d="M-8.4 -60.4V-65.4M8.4 -60.4V-65.4" stroke-width="1.32" />
<path d="M-7.1 -60.1A7.8 7.8 0 0 1 7.1 -60.1" stroke-width="1.98" />
<path d="M-3.1 -60.3A3.3 3.3 0 0 1 3.1 -60.3" stroke-width="1.72" />
<path d="M-8.4 60.4V65.4M8.4 60.4V65.4" stroke-width="1.32" />
<path d="M-7.1 60.1A7.8 7.8 0 0 0 7.1 60.1" stroke-width="1.98" />
<path d="M-3.1 60.3A3.3 3.3 0 0 0 3.1 60.3" stroke-width="1.72" />
<g transform="rotate(0)">
<path d="M23.2 -53.6H37Q38.4 -53.6 38.6 -52.2L39.6 -46Q39.8 -44.6 38.8 -44L37.6 -43.4Q36.6 -43 35.6 -43.8L22.8 -52.4Q21.6 -53.6 23.2 -53.6Z" stroke-width="1.78" />
<path d="M45.2 -38.8H52Q53.2 -38.8 53.3 -37.6L53.6 -33.2Q53.6 -31.8 52.4 -31.6L48.2 -31.1Q47 -31 46.4 -32L44 -36Q43.2 -38.8 45.2 -38.8Z" stroke-width="2.38" />
<line x1="39" y1="-39" x2="60.4" y2="-60.4" stroke-width="1.19" />
<circle cx="49.8" cy="-49.8" r="4.35" stroke-width="1.98" fill="#fff"/>
<line x1="46.7" y1="-46.7" x2="52.9" y2="-52.9" stroke-width="1.19" />
<line x1="46.7" y1="-52.9" x2="52.9" y2="-46.7" stroke-width="1.19" />
<path d="M36.88 -20.11L47.32 -23.14A8.2 8.2 0 1 1 51.99 -7.41L41.78 -4.32A42 42 0 0 0 36.88 -20.11Z" stroke-width="0.01" fill="#fff" stroke="none"/>
<path d="M36.88 -20.11L47.32 -23.14M51.99 -7.41L41.78 -4.32" stroke-width="1.25" />
<path d="M36.88 -20.11A42 42 0 0 1 41.78 -4.32" stroke-width="1.32" />
<circle cx="49.61" cy="-15.26" r="7.6" stroke-width="1.85" fill="#fff"/>
<circle cx="49.61" cy="-15.26" r="3.1" stroke-width="1.8" fill="#444"/>
<path d="M47.91 -15.26H51.31M49.61 -16.96V-13.56" stroke="#ddd" stroke-width="0.7"/>
</g>
<g transform="rotate(90)">
<path d="M23.2 -53.6H37Q38.4 -53.6 38.6 -52.2L39.6 -46Q39.8 -44.6 38.8 -44L37.6 -43.4Q36.6 -43 35.6 -43.8L22.8 -52.4Q21.6 -53.6 23.2 -53.6Z" stroke-width="1.78" />
<path d="M45.2 -38.8H52Q53.2 -38.8 53.3 -37.6L53.6 -33.2Q53.6 -31.8 52.4 -31.6L48.2 -31.1Q47 -31 46.4 -32L44 -36Q43.2 -38.8 45.2 -38.8Z" stroke-width="2.38" />
<line x1="39" y1="-39" x2="60.4" y2="-60.4" stroke-width="1.19" />
<circle cx="49.8" cy="-49.8" r="4.35" stroke-width="1.98" fill="#fff"/>
<line x1="46.7" y1="-46.7" x2="52.9" y2="-52.9" stroke-width="1.19" />
<line x1="46.7" y1="-52.9" x2="52.9" y2="-46.7" stroke-width="1.19" />
<path d="M36.88 -20.11L47.32 -23.14A8.2 8.2 0 1 1 51.99 -7.41L41.78 -4.32A42 42 0 0 0 36.88 -20.11Z" stroke-width="0.01" fill="#fff" stroke="none"/>
<path d="M36.88 -20.11L47.32 -23.14M51.99 -7.41L41.78 -4.32" stroke-width="1.25" />
<path d="M36.88 -20.11A42 42 0 0 1 41.78 -4.32" stroke-width="1.32" />
<circle cx="49.61" cy="-15.26" r="7.6" stroke-width="1.85" fill="#fff"/>
<circle cx="49.61" cy="-15.26" r="3.1" stroke-width="1.8" fill="#444"/>
<path d="M47.91 -15.26H51.31M49.61 -16.96V-13.56" stroke="#ddd" stroke-width="0.7"/>
</g>
<g transform="rotate(180)">
<path d="M23.2 -53.6H37Q38.4 -53.6 38.6 -52.2L39.6 -46Q39.8 -44.6 38.8 -44L37.6 -43.4Q36.6 -43 35.6 -43.8L22.8 -52.4Q21.6 -53.6 23.2 -53.6Z" stroke-width="1.78" />
<path d="M45.2 -38.8H52Q53.2 -38.8 53.3 -37.6L53.6 -33.2Q53.6 -31.8 52.4 -31.6L48.2 -31.1Q47 -31 46.4 -32L44 -36Q43.2 -38.8 45.2 -38.8Z" stroke-width="2.38" />
<line x1="39" y1="-39" x2="60.4" y2="-60.4" stroke-width="1.19" />
<circle cx="49.8" cy="-49.8" r="4.35" stroke-width="1.98" fill="#fff"/>
<line x1="46.7" y1="-46.7" x2="52.9" y2="-52.9" stroke-width="1.19" />
<line x1="46.7" y1="-52.9" x2="52.9" y2="-46.7" stroke-width="1.19" />
<path d="M36.88 -20.11L47.32 -23.14A8.2 8.2 0 1 1 51.99 -7.41L41.78 -4.32A42 42 0 0 0 36.88 -20.11Z" stroke-width="0.01" fill="#fff" stroke="none"/>
<path d="M36.88 -20.11L47.32 -23.14M51.99 -7.41L41.78 -4.32" stroke-width="1.25" />
<path d="M36.88 -20.11A42 42 0 0 1 41.78 -4.32" stroke-width="1.32" />
<circle cx="49.61" cy="-15.26" r="7.6" stroke-width="1.85" fill="#fff"/>
<circle cx="49.61" cy="-15.26" r="3.1" stroke-width="1.8" fill="#444"/>
<path d="M47.91 -15.26H51.31M49.61 -16.96V-13.56" stroke="#ddd" stroke-width="0.7"/>
</g>
<g transform="rotate(270)">
<path d="M23.2 -53.6H37Q38.4 -53.6 38.6 -52.2L39.6 -46Q39.8 -44.6 38.8 -44L37.6 -43.4Q36.6 -43 35.6 -43.8L22.8 -52.4Q21.6 -53.6 23.2 -53.6Z" stroke-width="1.78" />
<path d="M45.2 -38.8H52Q53.2 -38.8 53.3 -37.6L53.6 -33.2Q53.6 -31.8 52.4 -31.6L48.2 -31.1Q47 -31 46.4 -32L44 -36Q43.2 -38.8 45.2 -38.8Z" stroke-width="2.38" />
<line x1="39" y1="-39" x2="60.4" y2="-60.4" stroke-width="1.19" />
<circle cx="49.8" cy="-49.8" r="4.35" stroke-width="1.98" fill="#fff"/>
<line x1="46.7" y1="-46.7" x2="52.9" y2="-52.9" stroke-width="1.19" />
<line x1="46.7" y1="-52.9" x2="52.9" y2="-46.7" stroke-width="1.19" />
<path d="M36.88 -20.11L47.32 -23.14A8.2 8.2 0 1 1 51.99 -7.41L41.78 -4.32A42 42 0 0 0 36.88 -20.11Z" stroke-width="0.01" fill="#fff" stroke="none"/>
<path d="M36.88 -20.11L47.32 -23.14M51.99 -7.41L41.78 -4.32" stroke-width="1.25" />
<path d="M36.88 -20.11A42 42 0 0 1 41.78 -4.32" stroke-width="1.32" />
<circle cx="49.61" cy="-15.26" r="7.6" stroke-width="1.85" fill="#fff"/>
<circle cx="49.61" cy="-15.26" r="3.1" stroke-width="1.8" fill="#444"/>
<path d="M47.91 -15.26H51.31M49.61 -16.96V-13.56" stroke="#ddd" stroke-width="0.7"/>
</g>
<circle cx="0" cy="0" r="19.9" stroke-width="1.52" />
<circle cx="0" cy="0" r="17.5" stroke-width="1.19" />
<circle cx="0" cy="0" r="14" stroke-width="1.39" />
<line x1="14.2" y1="-0.05" x2="17.3" y2="0.13" stroke-width="1.19" />
<line x1="14.12" y1="1.53" x2="17.22" y2="1.68" stroke-width="1.19" />
<line x1="-7.06" y1="12.32" x2="-8.76" y2="14.92" stroke-width="1.19" />
<line x1="-8.39" y1="11.46" x2="-10.06" y2="14.07" stroke-width="1.19" />
<line x1="-7.14" y1="-12.27" x2="-8.53" y2="-15.05" stroke-width="1.19" />
<line x1="-5.73" y1="-12.99" x2="-7.16" y2="-15.75" stroke-width="1.19" />
<rect x="-1.1" y="-38.4" width="2.2" height="19" fill="#fff" stroke-width="1.06"/>
<rect x="-1.1" y="-30" width="2.2" height="10.6" fill="#333" stroke-width="1.06"/>
<path d="M0 18.6V22.4" stroke-width="2.24" />
<path d="M0 22V25" stroke-width="1.32" />
<path d="M-92 0H-36M-27 0H-19M-10 0H29M38 0H46M54 0H104" stroke-width="1.25" />
<path d="M0 -91V-38M0 -10V9.5M0 32V40.5M0 49.5V86" stroke-width="1.25" />
<circle cx="79.3" cy="0" r="4.4" stroke-width="1.58" fill="#fff"/>
<circle cx="0" cy="79.3" r="4.4" stroke-width="1.58" fill="#fff"/>
<circle cx="-79.3" cy="0" r="4.4" stroke-width="1.58" fill="#fff"/>
<circle cx="0" cy="-79.3" r="4.4" stroke-width="1.58" fill="#fff"/>
<line x1="0" y1="74.9" x2="0" y2="83.7" stroke-width="1.25" />
<line x1="74.9" y1="0" x2="83.7" y2="0" stroke-width="1.25" />
<line x1="60.4" y1="-60.4" x2="72.8" y2="-72.8" stroke-width="1.25" />
<line x1="60.4" y1="60.4" x2="72.8" y2="72.8" stroke-width="1.25" />
<path d="M70.85 -70.85A100.2 100.2 0 0 1 100.2 0" stroke-width="1.25" />
<path d="M100.2 0A100.2 100.2 0 0 1 70.85 70.85" stroke-width="1.25" />
<polygon points="70.85,-70.85 76,-66.91 74.47,-65.47" fill="#000" stroke="none"/>
<polygon points="100.2,0 98.95,-6.36 101.05,-6.43" fill="#000" stroke="none"/>
<polygon points="100.2,0 101.05,6.43 98.95,6.36" fill="#000" stroke="none"/>
<polygon points="70.85,70.85 74.47,65.47 76,66.91" fill="#000" stroke="none"/>
<text class="t" transform="translate(96.02 -37.82) rotate(63) scale(0.86 1)" font-size="11" text-anchor="middle" >45°</text>
<text class="t" transform="translate(90 36.9) rotate(-65) scale(0.86 1)" font-size="11" text-anchor="middle" >45°</text>
<line x1="-60.4" y1="-97.2" x2="-60.4" y2="-60.4" stroke-width="1.25" />
<line x1="60.4" y1="-97.2" x2="60.4" y2="-60.4" stroke-width="1.25" />
<line x1="-60.4" y1="-94.2" x2="60.4" y2="-94.2" stroke-width="1.25" />
<polygon points="-60.4,-94.2 -54.4,-95.35 -54.4,-93.05" fill="#000" stroke="none"/>
<polygon points="60.4,-94.2 54.4,-93.05 54.4,-95.35" fill="#000" stroke="none"/>
<text class="t" transform="translate(0 -96.4) rotate(0) scale(0.82 1)" font-size="11" text-anchor="middle" >C7</text>
<line x1="-99.3" y1="-60.4" x2="-60.4" y2="-60.4" stroke-width="1.25" />
<line x1="-99.3" y1="60.4" x2="-60.4" y2="60.4" stroke-width="1.25" />
<line x1="-96.3" y1="-60.4" x2="-96.3" y2="60.4" stroke-width="1.25" />
<polygon points="-96.3,-60.4 -95.15,-54.4 -97.45,-54.4" fill="#000" stroke="none"/>
<polygon points="-96.3,60.4 -97.45,54.4 -95.15,54.4" fill="#000" stroke="none"/>
<text class="t" transform="translate(-98.4 0) rotate(-90) scale(0.82 1)" font-size="11" text-anchor="middle" >C7</text>
<line x1="-54.9" y1="49.8" x2="-54.9" y2="103" stroke-width="1.25" />
<line x1="-44.8" y1="49.8" x2="-44.8" y2="103" stroke-width="1.25" />
<line x1="-69.2" y1="100.3" x2="-14.8" y2="100.3" stroke-width="1.25" />
<polygon points="-54.9,100.3 -60.9,101.45 -60.9,99.15" fill="#000" stroke="none"/>
<polygon points="-44.8,100.3 -38.8,99.15 -38.8,101.45" fill="#000" stroke="none"/>
<text class="t" transform="translate(-22.7 98.2) rotate(0) scale(0.82 1)" font-size="11" text-anchor="middle" >C2</text>
<rect transform="translate(-26.8 18) rotate(-38.5)" x="-10" y="-10" width="17.6" height="11.6" fill="#fff" stroke="none"/>
<line x1="-19.3" y1="16.2" x2="-52.5" y2="42.6" stroke-width="1.25" />
<text class="t" transform="translate(-26.8 18) rotate(-38.5) scale(0.84 1)" font-size="11" text-anchor="middle" >C1</text>
</g>
<g transform="translate(0 396.2)">
<line x1="263.6" y1="181.2" x2="392.8" y2="181.2" stroke-width="1.19" />
<line x1="263.6" y1="353.2" x2="392.8" y2="353.2" stroke-width="1.19" />
<line x1="265.9" y1="181.2" x2="265.9" y2="353.2" stroke-width="1.19" />
<polygon points="265.9,181.2 267.05,187.2 264.75,187.2" fill="#000" stroke="none"/>
<polygon points="265.9,353.2 264.75,347.2 267.05,347.2" fill="#000" stroke="none"/>
<text class="t" transform="translate(263.3 269.6) rotate(-90) scale(0.82 1)" font-size="11" text-anchor="middle" >Ø86</text>
<line x1="281.3" y1="203.1" x2="392.8" y2="203.1" stroke-width="1.19" />
<line x1="281.3" y1="331.3" x2="392.8" y2="331.3" stroke-width="1.19" />
<line x1="283.8" y1="203.1" x2="283.8" y2="331.3" stroke-width="1.19" />
<polygon points="283.8,203.1 284.95,209.1 282.65,209.1" fill="#000" stroke="none"/>
<polygon points="283.8,331.3 282.65,325.3 284.95,325.3" fill="#000" stroke="none"/>
<text class="t" transform="translate(281.2 267.8) rotate(-90) scale(0.82 1)" font-size="11" text-anchor="middle" >Ø64<tspan font-size="9">h7</tspan></text>
<line x1="300.6" y1="203.7" x2="392.8" y2="203.7" stroke-width="1.19" />
<line x1="300.6" y1="330.7" x2="392.8" y2="330.7" stroke-width="1.19" />
<line x1="302.8" y1="203.7" x2="302.8" y2="330.7" stroke-width="1.19" />
<polygon points="302.8,203.7 303.95,209.7 301.65,209.7" fill="#000" stroke="none"/>
<polygon points="302.8,330.7 301.65,324.7 303.95,324.7" fill="#000" stroke="none"/>
<text class="t" transform="translate(300.2 267) rotate(-90) scale(0.82 1)" font-size="11" text-anchor="middle" >Ø63.2</text>
<line x1="317.5" y1="227.1" x2="353.6" y2="227.1" stroke-width="1.19" />
<line x1="317.5" y1="307.3" x2="353.6" y2="307.3" stroke-width="1.19" />
<line x1="320.2" y1="227.1" x2="320.2" y2="307.3" stroke-width="1.19" />
<polygon points="320.2,227.1 321.35,233.1 319.05,233.1" fill="#000" stroke="none"/>
<polygon points="320.2,307.3 319.05,301.3 321.35,301.3" fill="#000" stroke="none"/>
<text class="t" transform="translate(317.6 267.4) rotate(-90) scale(0.82 1)" font-size="11" text-anchor="middle" >Ø40<tspan font-size="9">h7</tspan></text>
<line x1="334.9" y1="247.1" x2="355.3" y2="247.1" stroke-width="1.19" />
<line x1="334.9" y1="287.3" x2="355.3" y2="287.3" stroke-width="1.19" />
<line x1="337.4" y1="247.1" x2="337.4" y2="287.3" stroke-width="1.19" />
<polygon points="337.4,247.1 338.55,253.1 336.25,253.1" fill="#000" stroke="none"/>
<polygon points="337.4,287.3 336.25,281.3 338.55,281.3" fill="#000" stroke="none"/>
<text class="t" transform="translate(334.8 267.7) rotate(-90) scale(0.82 1)" font-size="11" text-anchor="middle" >Ø20<tspan font-size="9">H7</tspan></text>
<line x1="353.6" y1="128.2" x2="353.6" y2="307.3" stroke-width="1.52" />
<line x1="575.3" y1="128.2" x2="575.3" y2="377.5" stroke-width="1.32" />
<line x1="353.6" y1="131.3" x2="575.3" y2="131.3" stroke-width="1.19" />
<polygon points="353.6,131.3 359.6,130.15 359.6,132.45" fill="#000" stroke="none"/>
<polygon points="575.3,131.3 569.3,132.45 569.3,130.15" fill="#000" stroke="none"/>
<text class="t" transform="translate(464.45 128.6) rotate(0) scale(0.82 1)" font-size="11" text-anchor="middle" >C9</text>
<line x1="353.6" y1="148.7" x2="408.9" y2="148.7" stroke-width="1.19" />
<polygon points="353.6,148.7 358.6,148 358.6,149.4" fill="#000" stroke="none"/>
<polygon points="392.8,148.7 387.8,149.4 387.8,148" fill="#000" stroke="none"/>
<polygon points="400.8,148.7 405.8,148 405.8,149.4" fill="#000" stroke="none"/>
<text class="t" transform="translate(373.5 144.6) rotate(0) scale(0.82 1)" font-size="11" text-anchor="middle" >19,5</text>
<text class="t" transform="translate(396.8 146.6) rotate(0) scale(0.82 1)" font-size="11" text-anchor="middle" >4</text>
<line x1="392.8" y1="145.8" x2="392.8" y2="181.1" stroke-width="1.45" />
<line x1="400.8" y1="145.8" x2="400.8" y2="181.1" stroke-width="1.45" />
<line x1="345.3" y1="168.5" x2="368" y2="168.5" stroke-width="1.19" />
<polygon points="353.6,168.5 349.1,169.1 349.1,167.9" fill="#000" stroke="none"/>
<polygon points="359.6,168.5 364.1,167.9 364.1,169.1" fill="#000" stroke="none"/>
<text class="t" transform="translate(356.6 166.6) rotate(0) scale(0.82 1)" font-size="11" text-anchor="middle" >3</text>
<line x1="378.4" y1="168.5" x2="392.8" y2="168.5" stroke-width="1.19" />
<polygon points="378.4,168.5 382.9,167.9 382.9,169.1" fill="#000" stroke="none"/>
<polygon points="392.8,168.5 388.3,169.1 388.3,167.9" fill="#000" stroke="none"/>
<text class="t" transform="translate(385.6 166.6) rotate(0) scale(0.82 1)" font-size="11" text-anchor="middle" >7</text>
<line x1="400.8" y1="168.5" x2="416.4" y2="168.5" stroke-width="1.19" />
<polygon points="400.8,168.5 405.3,167.9 405.3,169.1" fill="#000" stroke="none"/>
<polygon points="416.4,168.5 411.9,169.1 411.9,167.9" fill="#000" stroke="none"/>
<text class="t" transform="translate(408.5 165.2) rotate(0) scale(0.82 1)" font-size="11" text-anchor="middle" >7,7</text>
<line x1="359.6" y1="166.3" x2="359.6" y2="227.2" stroke-width="1.19" />
<line x1="359.6" y1="307.2" x2="359.6" y2="331" stroke-width="1.19" />
<line x1="361.1" y1="203.7" x2="361.1" y2="227.2" stroke-width="1.06" />
<line x1="361.1" y1="307.2" x2="361.1" y2="331" stroke-width="1.06" />
<line x1="378.4" y1="166.3" x2="378.4" y2="331" stroke-width="1.19" />
<line x1="416.4" y1="166.3" x2="416.4" y2="337.2" stroke-width="1.19" />
<line x1="392.8" y1="181.1" x2="392.8" y2="353.3" stroke-width="1.52" />
<line x1="400.8" y1="181.1" x2="400.8" y2="353.3" stroke-width="1.52" />
<line x1="392.8" y1="181.1" x2="400.8" y2="181.1" stroke-width="1.32" />
<line x1="392.8" y1="353.3" x2="400.8" y2="353.3" stroke-width="1.32" />
<line x1="388.5" y1="188" x2="404.9" y2="188" stroke-width="1.32" />
<line x1="392.8" y1="183.4" x2="400.8" y2="183.4" stroke-width="1.06" />
<line x1="392.8" y1="192.6" x2="400.8" y2="192.6" stroke-width="1.06" />
<rect x="392.8" y="180.9" width="8" height="2.5" fill="url(#hat)" stroke="none"/>
<rect x="392.8" y="192.6" width="8" height="2.5" fill="url(#hat)" stroke="none"/>
<line x1="392.8" y1="180.9" x2="400.8" y2="180.9" stroke-width="1.06" />
<line x1="388.5" y1="346.4" x2="404.9" y2="346.4" stroke-width="1.32" />
<line x1="392.8" y1="341.8" x2="400.8" y2="341.8" stroke-width="1.06" />
<line x1="392.8" y1="351" x2="400.8" y2="351" stroke-width="1.06" />
<rect x="392.8" y="339.3" width="8" height="2.5" fill="url(#hat)" stroke="none"/>
<rect x="392.8" y="351" width="8" height="2.5" fill="url(#hat)" stroke="none"/>
<line x1="392.8" y1="339.3" x2="400.8" y2="339.3" stroke-width="1.06" />
<path d="M400.8 196.9H405.7V200.1H411.1V196.9H416.8L423.1 201.3H523.5L531.8 208.8" stroke-width="1.32" />
<path d="M536.1 267.2V208.2Q536.1 206.9 537.6 206.9H575.3" stroke-width="1.32" />
<line x1="536.1" y1="214" x2="575.3" y2="214" stroke-width="1.32" />
<line x1="416.3" y1="196.8" x2="636" y2="196.8" stroke-width="1.32" />
<path d="M400.8 337.5H405.7V334.3H411.1V337.5H416.8L423.1 333.1H523.5L531.8 325.6" stroke-width="1.32" />
<path d="M536.1 267.2V326.2Q536.1 327.5 537.6 327.5H575.3" stroke-width="1.32" />
<line x1="536.1" y1="320.4" x2="575.3" y2="320.4" stroke-width="1.32" />
<line x1="416.3" y1="337.3" x2="636" y2="337.3" stroke-width="1.32" />
<line x1="405.7" y1="196.9" x2="405.7" y2="337.5" stroke-width="1.19" />
<line x1="411.1" y1="196.9" x2="411.1" y2="337.5" stroke-width="1.19" />
<line x1="424.1" y1="201.3" x2="424.1" y2="333.1" stroke-width="1.19" />
<line x1="432.2" y1="201.3" x2="432.2" y2="333.1" stroke-width="1.19" />
<line x1="523.5" y1="201.3" x2="523.5" y2="333.1" stroke-width="1.19" />
<line x1="525.6" y1="203.5" x2="525.6" y2="330.9" stroke-width="1.19" />
<line x1="531.8" y1="208.8" x2="531.8" y2="325.6" stroke-width="1.78" />
<line x1="490" y1="201.3" x2="490" y2="333.1" stroke-width="1.58" />
<line x1="453.6" y1="201.3" x2="453.6" y2="333.1" stroke-width="1.19" />
<polygon points="453.6,201.3 454.75,207.3 452.45,207.3" fill="#000" stroke="none"/>
<polygon points="453.6,333.1 452.45,327.1 454.75,327.1" fill="#000" stroke="none"/>
<text class="t" transform="translate(449.7 246.4) rotate(-90) scale(0.82 1)" font-size="11" text-anchor="middle" >Ø65,5</text>
<circle cx="550.8" cy="239.9" r="10.1" stroke-width="1.35" fill="#fff"/>
<circle cx="550.8" cy="239.9" r="8.05" stroke-width="1.0"/>
<polygon points="556.6,239.9 553.7,244.92 547.9,244.92 545,239.9 547.9,234.88 553.7,234.88" stroke-width="1.5"/>
<rect x="514.3" y="227.1" width="8.6" height="15" fill="#fff" stroke="none"/>
<path d="M514.3 242.1V227.1H526L532.3 231.2M514.3 242.1H526L532.3 245.6" stroke-width="1.65" />
<path d="M516.6 242.1V231.4H524.6V242.1" stroke-width="0.99" />
<rect x="514.3" y="292.3" width="8.6" height="15" fill="#fff" stroke="none"/>
<path d="M514.3 307.3V292.3H526L532.3 288.8M514.3 307.3H526L532.3 303.2" stroke-width="1.65" />
<path d="M516.6 292.3V303H524.6V292.3" stroke-width="0.99" />
<path d="M506.6 253.4H509.8M514 253.4H528M533.3 253.4H544M548.3 253.4H562.2M564 253.4H575.3" stroke-width="1.25" />
<path d="M506.6 281.7H509.8M514 281.7H528M533.3 281.7H544M548.3 281.7H562.2M564 281.7H575.3" stroke-width="1.25" />
<path d="M506.6 253.4V267.2M506.6 270.4V281.7" stroke-width="1.25" />
<line x1="506.6" y1="281.7" x2="506.6" y2="376.5" stroke-width="1.25" />
<path d="M564.8 217.4V227.6M564.8 231V248.5M564.8 252.6V263.6M564.8 267.5V280M564.8 284V298M564.8 301.5V317.3" stroke-width="1.25" />
<path d="M561.8 253.4V263.4M561.8 267.6V281.7" stroke-width="1.25" />
<line x1="561.6" y1="281.7" x2="561.6" y2="356.8" stroke-width="1.25" />
<path d="M353.6 227.1H365.3C371.3 227.1 374.5 231.2 374.5 238.2C374.5 249.2 373.1 259.2 373.1 267.2C373.1 279.2 376.3 287.2 379.8 293.2C382.3 298.2 381.3 303.7 376.8 305.8C374.3 307 372.3 307.3 369.3 307.3H353.6Z" stroke-width="0.01" fill="#fff" stroke="none"/>
<g clip-path="url(#clip2)">
<path d="M353.6 227.1H365.3C371.3 227.1 374.5 231.2 374.5 238.2C374.5 249.2 373.1 259.2 373.1 267.2C373.1 279.2 376.3 287.2 379.8 293.2C382.3 298.2 381.3 303.7 376.8 305.8C374.3 307 372.3 307.3 369.3 307.3H353.6Z" fill="url(#hat2)" stroke="none"/>
</g>
<rect x="355.7" y="247.1" width="13.9" height="40.2" fill="#fff" stroke-width="1.1"/>
<path d="M354.7 229.8H364.9L368.7 235.5L364.9 241H354.7Z" stroke-width="1.32" fill="#fff"/>
<line x1="364.9" y1="229.8" x2="364.9" y2="241" stroke-width="1.19" />
<line x1="356.3" y1="231.9" x2="364.9" y2="231.9" stroke-width="0.59" />
<line x1="356.3" y1="238.9" x2="364.9" y2="238.9" stroke-width="0.59" />
<line x1="350.3" y1="235.6" x2="364.3" y2="235.6" stroke-width="1.19" />
<path d="M354.7 293.9H371.9L376.5 298.6L371.9 303.2H354.7Z" stroke-width="1.32" fill="#fff"/>
<line x1="371.9" y1="293.9" x2="371.9" y2="303.2" stroke-width="1.19" />
<line x1="354.7" y1="295.4" x2="369.9" y2="295.4" stroke-width="0.59" />
<line x1="354.7" y1="301.8" x2="369.9" y2="301.8" stroke-width="0.59" />
<line x1="350.3" y1="298.6" x2="369.3" y2="298.6" stroke-width="1.19" />
<path d="M353.6 227.1H365.3C371.3 227.1 374.5 231.2 374.5 238.2C374.5 249.2 373.1 259.2 373.1 267.2C373.1 279.2 376.3 287.2 379.8 293.2C382.3 298.2 381.3 303.7 376.8 305.8C374.3 307 372.3 307.3 369.3 307.3H353.6Z" stroke-width="1.45" />
<path d="M345.5 267.2H384.3M392.8 267.2H403M411.1 267.2H450.4M458 267.2H468.5M476 267.2H515.3M521 267.2H532M540.5 267.2H571.6" stroke-width="1.19" />
<line x1="378.4" y1="227.2" x2="378.4" y2="307.2" stroke-width="1.19" />
<line x1="353.6" y1="261.6" x2="369.6" y2="261.6" stroke-width="1.19" />
<polygon points="353.6,261.6 358.1,260.8 358.1,262.4" fill="#000" stroke="none"/>
<polygon points="369.6,261.6 365.1,262.4 365.1,260.8" fill="#000" stroke="none"/>
<text class="t" transform="translate(361.5 259.6) rotate(0) scale(0.82 1)" font-size="11" text-anchor="middle" >8</text>
<line x1="575.3" y1="253.5" x2="598.3" y2="253.5" stroke-width="1.19" />
<line x1="575.3" y1="281.8" x2="598.3" y2="281.8" stroke-width="1.19" />
<line x1="596" y1="253.5" x2="596" y2="281.8" stroke-width="1.19" />
<polygon points="596,253.5 597.15,259.5 594.85,259.5" fill="#000" stroke="none"/>
<polygon points="596,281.8 594.85,275.8 597.15,275.8" fill="#000" stroke="none"/>
<text class="t" transform="translate(593.1 267.2) rotate(-90) scale(0.82 1)" font-size="11" text-anchor="middle" >C3<tspan font-size="9">F7</tspan></text>
<line x1="564.8" y1="217.4" x2="617.9" y2="217.4" stroke-width="1.19" />
<line x1="564.8" y1="317.3" x2="617.9" y2="317.3" stroke-width="1.19" />
<line x1="615.6" y1="217.4" x2="615.6" y2="317.3" stroke-width="1.19" />
<polygon points="615.6,217.4 616.75,223.4 614.45,223.4" fill="#000" stroke="none"/>
<polygon points="615.6,317.3 614.45,311.3 616.75,311.3" fill="#000" stroke="none"/>
<text class="t" transform="translate(612.7 267.2) rotate(-90) scale(0.82 1)" font-size="11" text-anchor="middle" >C5<tspan font-size="9">G7</tspan></text>
<line x1="633.2" y1="196.8" x2="633.2" y2="337.3" stroke-width="1.19" />
<polygon points="633.2,196.8 634.35,202.8 632.05,202.8" fill="#000" stroke="none"/>
<polygon points="633.2,337.3 632.05,331.3 634.35,331.3" fill="#000" stroke="none"/>
<text class="t" transform="translate(630.3 267.2) rotate(-90) scale(0.82 1)" font-size="11" text-anchor="middle" >Ø70h7</text>
<line x1="551" y1="307.1" x2="605.3" y2="307.1" stroke-width="1.19" />
<text class="t" transform="translate(597 304.6) rotate(0) scale(0.82 1)" font-size="11" text-anchor="middle" >C6</text>
<line x1="548" y1="353.8" x2="607.6" y2="353.8" stroke-width="1.19" />
<text class="t" transform="translate(599.6 351) rotate(0) scale(0.82 1)" font-size="11" text-anchor="middle" >C8</text>
<text class="t" transform="translate(541.1 370.4) rotate(0) scale(0.82 1)" font-size="11" text-anchor="middle" >C4</text>
<polygon points="564.8,307 558.8,308.15 558.8,305.85" fill="#000" stroke="none"/>
<polygon points="575.3,307 581.3,305.85 581.3,308.15" fill="#000" stroke="none"/>
<polygon points="561.6,353.9 555.6,355.05 555.6,352.75" fill="#000" stroke="none"/>
<polygon points="575.3,353.9 581.3,352.75 581.3,355.05" fill="#000" stroke="none"/>
<line x1="506.6" y1="373.5" x2="575.3" y2="373.5" stroke-width="1.19" />
<polygon points="506.6,373.5 512.6,372.35 512.6,374.65" fill="#000" stroke="none"/>
<polygon points="575.3,373.5 569.3,374.65 569.3,372.35" fill="#000" stroke="none"/>
<path d="M350 280.9L341.6 288.9L329.6 379.5H269.2" stroke-width="1.19" />
<text class="s" transform="translate(269.5 377) rotate(0) scale(1 1)" font-size="8.3" text-anchor="start" >法兰面尺寸依照</text>
<text class="m" transform="translate(294.8 388.6) rotate(0) scale(1 1)" font-size="8" text-anchor="start" textLength="32.5" lengthAdjust="spacing">ISO 9409</text>
<path d="M408.5 335.8L400.1 380H361.4" stroke-width="1.19" />
<text class="s" transform="translate(362.9 377.7) rotate(0) scale(1 1)" font-size="8" text-anchor="start" >油环</text>
<text class="t" transform="translate(379.3 377.7) rotate(0) scale(0.82 1)" font-size="10" text-anchor="start" >66x2</text>
</g>
<g transform="translate(771.7 663.3)">
<circle cx="0" cy="0" r="86" stroke-width="1.39" />
<path d="M78.93 5.24A79.1 79.1 0 0 1 69.51 37.74" stroke-width="1.25" />
<path d="M64.4 45.93A79.1 79.1 0 0 1 61.04 50.31" stroke-width="1.25" />
<path d="M52.1 59.52A79.1 79.1 0 0 1 22.47 75.84" stroke-width="1.25" />
<path d="M13.06 78.02A79.1 79.1 0 0 1 7.58 78.74" stroke-width="1.25" />
<path d="M-5.24 78.93A79.1 79.1 0 0 1 -37.74 69.51" stroke-width="1.25" />
<path d="M-45.93 64.4A79.1 79.1 0 0 1 -50.31 61.04" stroke-width="1.25" />
<path d="M-59.52 52.1A79.1 79.1 0 0 1 -75.84 22.47" stroke-width="1.25" />
<path d="M-78.02 13.06A79.1 79.1 0 0 1 -78.74 7.58" stroke-width="1.25" />
<path d="M-78.93 -5.24A79.1 79.1 0 0 1 -69.51 -37.74" stroke-width="1.25" />
<path d="M-64.4 -45.93A79.1 79.1 0 0 1 -61.04 -50.31" stroke-width="1.25" />
<path d="M-52.1 -59.52A79.1 79.1 0 0 1 -22.47 -75.84" stroke-width="1.25" />
<path d="M-13.06 -78.02A79.1 79.1 0 0 1 -7.58 -78.74" stroke-width="1.25" />
<path d="M5.24 -78.93A79.1 79.1 0 0 1 37.74 -69.51" stroke-width="1.25" />
<path d="M45.93 -64.4A79.1 79.1 0 0 1 50.31 -61.04" stroke-width="1.25" />
<path d="M59.52 -52.1A79.1 79.1 0 0 1 75.84 -22.47" stroke-width="1.25" />
<path d="M78.02 -13.06A79.1 79.1 0 0 1 78.74 -7.58" stroke-width="1.25" />
<circle cx="0" cy="0" r="63.6" stroke-width="1.98" />
<circle cx="0" cy="0" r="59" stroke-width="1.32" />
<circle cx="0" cy="0" r="40.2" stroke-width="1.32" />
<circle cx="0" cy="0" r="31.5" stroke-width="1.19" />
<circle cx="0" cy="0" r="20" stroke-width="1.32" />
<path d="M-8.94 -52.85A53.6 53.6 0 0 1 8.94 -52.85L8.15 -44.56A45.3 45.3 0 0 0 -8.15 -44.56Z" stroke-width="1.32" />
<path d="M18.68 -50.24A53.6 53.6 0 0 1 34.17 -41.3L29.34 -34.51A45.3 45.3 0 0 0 15.22 -42.67Z" stroke-width="1.32" />
<path d="M41.3 -34.17A53.6 53.6 0 0 1 50.24 -18.68L42.67 -15.22A45.3 45.3 0 0 0 34.51 -29.34Z" stroke-width="1.32" />
<path d="M52.85 -8.94A53.6 53.6 0 0 1 52.85 8.94L44.56 8.15A45.3 45.3 0 0 0 44.56 -8.15Z" stroke-width="1.32" />
<path d="M50.24 18.68A53.6 53.6 0 0 1 41.3 34.17L34.51 29.34A45.3 45.3 0 0 0 42.67 15.22Z" stroke-width="1.32" />
<path d="M34.17 41.3A53.6 53.6 0 0 1 18.68 50.24L15.22 42.67A45.3 45.3 0 0 0 29.34 34.51Z" stroke-width="1.32" />
<path d="M8.94 52.85A53.6 53.6 0 0 1 -8.94 52.85L-8.15 44.56A45.3 45.3 0 0 0 8.15 44.56Z" stroke-width="1.32" />
<path d="M-18.68 50.24A53.6 53.6 0 0 1 -34.17 41.3L-29.34 34.51A45.3 45.3 0 0 0 -15.22 42.67Z" stroke-width="1.32" />
<path d="M-41.3 34.17A53.6 53.6 0 0 1 -50.24 18.68L-42.67 15.22A45.3 45.3 0 0 0 -34.51 29.34Z" stroke-width="1.32" />
<path d="M-52.85 8.94A53.6 53.6 0 0 1 -52.85 -8.94L-44.56 -8.15A45.3 45.3 0 0 0 -44.56 8.15Z" stroke-width="1.32" />
<path d="M-50.24 -18.68A53.6 53.6 0 0 1 -41.3 -34.17L-34.51 -29.34A45.3 45.3 0 0 0 -42.67 -15.22Z" stroke-width="1.32" />
<path d="M-34.17 -41.3A53.6 53.6 0 0 1 -18.68 -50.24L-15.22 -42.67A45.3 45.3 0 0 0 -29.34 -34.51Z" stroke-width="1.32" />
<line x1="8.49" y1="8.49" x2="35.36" y2="35.36" stroke-width="1.25" />
<line x1="41.37" y1="41.37" x2="48.08" y2="48.08" stroke-width="1.25" />
<line x1="-8.49" y1="8.49" x2="-35.36" y2="35.36" stroke-width="1.25" />
<line x1="-41.37" y1="41.37" x2="-48.08" y2="48.08" stroke-width="1.25" />
<line x1="-8.49" y1="-8.49" x2="-35.36" y2="-35.36" stroke-width="1.25" />
<line x1="-41.37" y1="-41.37" x2="-48.08" y2="-48.08" stroke-width="1.25" />
<line x1="8.49" y1="-8.49" x2="35.36" y2="-35.36" stroke-width="1.25" />
<line x1="41.37" y1="-41.37" x2="48.08" y2="-48.08" stroke-width="1.25" />
<path d="M-90.7 0H-17.6M-8.6 0H47.3M57.1 0H96.3" stroke-width="1.25" />
<path d="M0 -108.8V-96.3M0 -91.5V-16.8M0 -8.2V50M0 57V95.4" stroke-width="1.25" />
<circle cx="79.1" cy="0" r="4.5" stroke-width="1.25" fill="#fff"/>
<line x1="79.1" y1="-2.8" x2="79.1" y2="1" stroke-width="1.19" />
<circle cx="55.93" cy="55.93" r="4.5" stroke-width="1.25" fill="#fff"/>
<line x1="53.74" y1="53.74" x2="67.88" y2="67.88" stroke-width="1.25" />
<circle cx="0" cy="79.1" r="4.5" stroke-width="1.25" fill="#fff"/>
<line x1="0" y1="74.6" x2="0" y2="83.6" stroke-width="1.25" />
<line x1="-3" y1="79.1" x2="3" y2="79.1" stroke-width="1.19" />
<circle cx="-55.93" cy="55.93" r="4.5" stroke-width="1.25" fill="#fff"/>
<line x1="-53.74" y1="53.74" x2="-67.88" y2="67.88" stroke-width="1.25" />
<circle cx="-79.1" cy="0" r="4.5" stroke-width="1.25" fill="#fff"/>
<line x1="-79.1" y1="-2.8" x2="-79.1" y2="1" stroke-width="1.19" />
<circle cx="-55.93" cy="-55.93" r="4.5" stroke-width="1.25" fill="#fff"/>
<line x1="-53.74" y1="-53.74" x2="-67.88" y2="-67.88" stroke-width="1.25" />
<circle cx="0" cy="-79.1" r="4.5" stroke-width="1.25" fill="#fff"/>
<line x1="-11.5" y1="-79.1" x2="-5" y2="-79.1" stroke-width="1.25" />
<circle cx="55.93" cy="-55.93" r="4.5" stroke-width="1.25" fill="#fff"/>
<line x1="53.74" y1="-53.74" x2="67.88" y2="-67.88" stroke-width="1.25" />
<circle cx="0" cy="-31.5" r="4.8" stroke-width="1.25" fill="#fff"/>
<line x1="-3.2" y1="-31.5" x2="3.2" y2="-31.5" stroke-width="1.19" />
<circle cx="22.27" cy="-22.27" r="4.1" stroke-width="2.05" fill="#fff"/>
<line x1="19.94" y1="-19.94" x2="24.61" y2="-24.61" stroke-width="1.19" />
<line x1="19.94" y1="-24.61" x2="24.61" y2="-19.94" stroke-width="1.19" />
<circle cx="31.5" cy="0" r="4.1" stroke-width="2.05" fill="#fff"/>
<line x1="31.5" y1="-3.3" x2="31.5" y2="3.3" stroke-width="1.19" />
<line x1="28.2" y1="0" x2="34.8" y2="0" stroke-width="1.19" />
<circle cx="22.27" cy="22.27" r="4.1" stroke-width="2.05" fill="#fff"/>
<line x1="19.94" y1="19.94" x2="24.61" y2="24.61" stroke-width="1.19" />
<line x1="24.61" y1="19.94" x2="19.94" y2="24.61" stroke-width="1.19" />
<circle cx="0" cy="31.5" r="4.1" stroke-width="2.05" fill="#fff"/>
<line x1="-3.3" y1="31.5" x2="3.3" y2="31.5" stroke-width="1.19" />
<line x1="0" y1="28.2" x2="0" y2="34.8" stroke-width="1.19" />
<circle cx="-22.27" cy="22.27" r="4.1" stroke-width="2.05" fill="#fff"/>
<line x1="-19.94" y1="19.94" x2="-24.61" y2="24.61" stroke-width="1.19" />
<line x1="-19.94" y1="24.61" x2="-24.61" y2="19.94" stroke-width="1.19" />
<circle cx="-31.5" cy="0" r="4.1" stroke-width="2.05" fill="#fff"/>
<line x1="-31.5" y1="-3.3" x2="-31.5" y2="3.3" stroke-width="1.19" />
<line x1="-34.8" y1="0" x2="-28.2" y2="0" stroke-width="1.19" />
<circle cx="-22.27" cy="-22.27" r="4.1" stroke-width="2.05" fill="#fff"/>
<line x1="-19.94" y1="-19.94" x2="-24.61" y2="-24.61" stroke-width="1.19" />
<line x1="-24.61" y1="-19.94" x2="-19.94" y2="-24.61" stroke-width="1.19" />
<path d="M-74.67 -74.67A105.6 105.6 0 0 1 0 -105.6" stroke-width="1.25" />
<polygon points="-74.67,-74.67 -71.11,-79.63 -69.53,-77.97" fill="#000" stroke="none"/>
<polygon points="0,-105.6 -5.97,-104.29 -6.03,-106.59" fill="#000" stroke="none"/>
<line x1="-59.4" y1="-59.4" x2="-77.43" y2="-77.43" stroke-width="1.25" />
<text class="t" transform="translate(-41.56 -100.33) rotate(-22.5) scale(0.84 1)" font-size="11" text-anchor="middle" >45°</text>
<path d="M30 -104.7H56.4M30 -104.7L2.2 -34.6" stroke-width="1.25" />
<text class="t" transform="translate(32.8 -107.3) rotate(0) scale(0.84 1)" font-size="11" text-anchor="start" >Ø5H7</text>
<text class="s2" transform="translate(36.6 -94.7) rotate(0) scale(1 1)" font-size="9" text-anchor="start" >深</text>
<text class="t" transform="translate(45.8 -94.7) rotate(0) scale(0.84 1)" font-size="10.4" text-anchor="start" >6</text>
<path d="M48.8 -78.3H76.8M48.8 -78.3L18.6 -29.6" stroke-width="1.25" />
<text class="t" transform="translate(51.8 -81.2) rotate(0) scale(0.84 1)" font-size="11" text-anchor="start" >Ø31.5</text>
<path d="M70.5 -54.9H104.6M70.5 -54.9L27.6 -27.3" stroke-width="1.25" />
<text class="t" transform="translate(74.3 -57.4) rotate(0) scale(0.84 1)" font-size="11" text-anchor="start" >7-M5x8</text>
<path d="M-109.8 -67.4H-90.8L-65.1 -49.2" stroke-width="1.25" />
<text class="t" transform="translate(-109.3 -70.2) rotate(0) scale(0.84 1)" font-size="11" text-anchor="start" >Ø79</text>
<path d="M-120.8 -32.2H-90.8L-80.5 -4" stroke-width="1.25" />
<text class="t" transform="translate(-120.3 -35) rotate(0) scale(0.84 1)" font-size="11" text-anchor="start" >8-Ø4.5</text>
<text class="s2" transform="translate(-116.5 -22.4) rotate(0) scale(1 1)" font-size="8.2" text-anchor="start" >通孔</text>
</g>
</g></svg></body></html>
